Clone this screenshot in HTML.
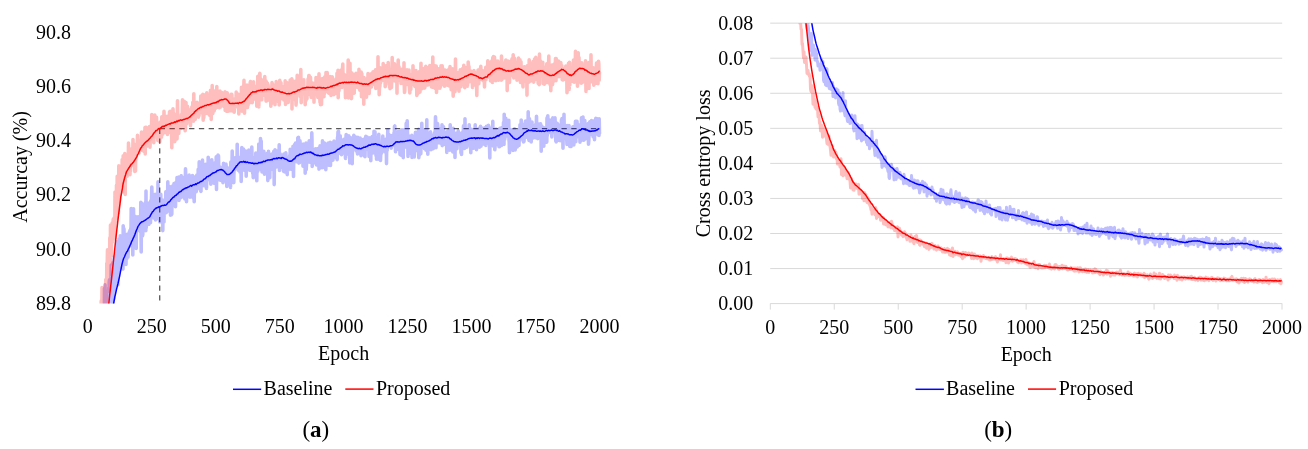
<!DOCTYPE html><html><head><meta charset="utf-8"><style>html,body{margin:0;padding:0;background:#fff;}svg{display:block;}</style></head><body>
<svg width="1308" height="449" viewBox="0 0 1308 449" font-family="&quot;Liberation Serif&quot;, serif" font-size="20" fill="#000">
<defs><clipPath id="cL"><rect x="80" y="15" width="530" height="288.6"/></clipPath><clipPath id="cR"><rect x="765" y="23.2" width="530" height="280.4"/></clipPath></defs>
<rect width="1308" height="449" fill="#fff"/><g opacity="0.999">
<text x="71" y="38.7" text-anchor="end">90.8</text>
<text x="71" y="92.9" text-anchor="end">90.6</text>
<text x="71" y="147.2" text-anchor="end">90.4</text>
<text x="71" y="201.4" text-anchor="end">90.2</text>
<text x="71" y="255.7" text-anchor="end">90.0</text>
<text x="71" y="309.9" text-anchor="end">89.8</text>
<text x="87.8" y="333.2" text-anchor="middle">0</text>
<text x="151.8" y="333.2" text-anchor="middle">250</text>
<text x="215.7" y="333.2" text-anchor="middle">500</text>
<text x="279.7" y="333.2" text-anchor="middle">750</text>
<text x="343.6" y="333.2" text-anchor="middle">1000</text>
<text x="407.6" y="333.2" text-anchor="middle">1250</text>
<text x="471.6" y="333.2" text-anchor="middle">1500</text>
<text x="535.5" y="333.2" text-anchor="middle">1750</text>
<text x="599.5" y="333.2" text-anchor="middle">2000</text>
<text x="343.6" y="360" text-anchor="middle">Epoch</text>
<text transform="translate(27.2,166.9) rotate(-90)" text-anchor="middle">Accurcay (%)</text>
<line x1="233" y1="389.3" x2="261.2" y2="389.3" stroke="#0000ff" stroke-width="1.5"/>
<text x="263.6" y="395">Baseline</text>
<line x1="345.3" y1="389.1" x2="373.5" y2="389.1" stroke="#ff0000" stroke-width="1.5"/>
<text x="375.9" y="394.8">Proposed</text>
<text x="315.8" y="436.9" text-anchor="middle" font-size="23">(<tspan font-weight="bold">a</tspan>)</text>
<g stroke="#595959" stroke-width="1.3" stroke-dasharray="5.3 4.5" fill="none"><path d="M159.7 128.7V301"/><path d="M159.7 128.7H597"/></g>
<g clip-path="url(#cL)" fill="none" stroke-linejoin="round" stroke-linecap="round">
<path d="M100.0 384.8L100.2 364.4L100.5 367.2L100.8 374.9L101.0 347.8L101.2 358.4L101.5 344.0L101.8 337.7L102.0 359.5L102.2 331.0L102.5 345.5L102.8 328.1L103.0 338.9L103.2 329.4L103.5 356.2L103.8 336.5L104.0 334.7L104.2 360.1L104.5 288.5L104.8 308.8L105.0 284.9L105.2 324.0L105.5 329.6L105.8 331.1L106.0 322.9L106.2 302.1L106.5 343.7L106.8 318.0L107.0 306.9L107.2 291.3L107.5 314.7L107.8 298.4L108.0 297.6L108.2 306.7L108.5 305.5L108.8 287.8L109.0 319.2L109.2 282.7L109.5 279.8L109.8 300.9L110.0 297.0L110.2 295.0L110.5 286.6L110.8 292.5L111.0 282.3L111.2 265.1L111.5 299.9L111.8 272.8L112.0 283.5L112.2 296.7L112.5 285.2L112.8 323.6L113.0 262.5L113.2 271.0L113.5 282.0L113.8 299.1L114.0 275.0L114.2 257.0L114.5 292.3L114.8 262.0L115.0 271.0L115.2 284.9L115.5 262.0L115.8 263.9L116.0 275.7L116.2 265.0L116.5 270.6L116.8 252.7L117.0 262.8L117.2 248.7L117.5 241.5L117.8 285.0L118.0 266.7L118.2 272.0L118.5 246.3L118.8 258.1L119.0 255.1L119.2 238.7L119.5 263.8L119.8 246.8L120.0 253.0L120.2 235.7L120.5 267.4L120.8 263.9L121.0 258.8L121.2 241.9L121.5 246.2L121.8 267.9L122.0 248.7L122.2 255.0L122.5 253.0L122.8 237.1L123.0 269.1L123.2 225.7L123.5 252.2L123.8 247.9L124.0 228.9L124.2 252.0L124.5 253.7L124.8 247.5L125.0 236.5L125.2 251.2L125.5 258.5L125.8 247.4L126.0 264.5L126.2 253.7L126.5 252.1L126.8 258.7L127.0 234.4L127.2 235.5L127.5 246.9L127.8 246.4L128.0 257.1L128.2 252.4L128.5 240.8L128.8 240.7L129.0 234.6L129.2 233.1L129.5 231.6L129.8 246.1L130.0 230.2L130.2 230.9L130.5 236.0L130.8 228.0L131.0 230.6L131.2 208.6L131.5 236.0L131.8 228.0L132.0 232.8L132.2 234.1L132.5 209.7L132.8 254.9L133.0 230.3L133.2 230.1L133.5 208.8L133.8 234.0L134.0 231.4L134.2 222.9L134.5 229.0L134.8 239.6L135.0 222.4L135.2 216.3L135.5 239.3L135.8 228.0L136.0 223.2L136.2 248.5L136.5 226.3L136.8 222.7L137.0 227.0L137.2 220.0L137.5 226.0L137.8 225.2L138.0 216.8L138.2 220.6L138.5 226.2L138.8 226.7L139.0 228.5L139.2 230.4L139.5 224.9L139.8 227.3L140.0 218.3L140.2 219.4L140.5 231.9L140.8 202.2L141.0 225.0L141.2 252.0L141.5 203.0L141.8 235.4L142.0 203.6L142.2 223.9L142.5 235.9L142.8 234.3L143.0 211.1L143.2 207.1L143.5 205.6L143.8 225.9L144.0 215.2L144.2 218.7L144.5 220.8L144.8 222.0L145.0 222.9L145.2 218.8L145.5 202.3L145.8 230.7L146.0 191.1L146.2 227.9L146.5 210.4L146.8 213.8L147.0 210.4L147.2 211.4L147.5 214.2L147.8 211.4L148.0 203.5L148.2 220.9L148.5 207.4L148.8 224.5L149.0 210.5L149.2 205.1L149.5 215.1L149.8 218.8L150.0 202.2L150.2 207.6L150.5 222.7L150.8 200.7L151.0 201.9L151.2 210.8L151.5 198.3L151.8 187.0L152.0 194.0L152.2 212.0L152.5 214.3L152.8 213.6L153.0 211.7L153.2 197.3L153.5 213.9L153.8 218.0L154.0 201.7L154.2 215.9L154.5 204.4L154.8 209.1L155.0 210.6L155.2 194.4L155.5 219.9L155.8 199.7L156.0 206.1L156.2 202.7L156.5 210.8L156.8 210.5L157.0 206.9L157.2 218.7L157.5 209.0L157.8 203.1L158.0 181.9L158.2 204.0L158.5 203.9L158.8 198.9L159.0 198.9L159.2 211.1L159.5 214.9L159.8 222.0L160.0 215.5L160.2 199.9L160.5 207.9L160.8 194.3L161.0 211.7L161.2 208.5L161.5 200.4L161.8 204.5L162.0 203.2L162.2 199.9L162.5 216.0L162.8 230.6L163.0 211.6L163.2 213.3L163.5 205.7L163.8 201.3L164.0 222.0L164.2 200.8L164.5 206.8L164.8 202.3L165.0 207.8L165.2 202.3L165.5 207.3L165.8 191.9L166.0 201.1L166.2 212.7L166.5 192.9L166.8 195.6L167.0 211.8L167.2 203.7L167.5 208.8L167.8 181.8L168.0 200.7L168.2 189.0L168.5 187.8L168.8 202.1L169.0 208.0L169.2 186.3L169.5 189.2L169.8 193.2L170.0 196.6L170.2 186.8L170.5 215.2L170.8 201.6L171.0 193.9L171.2 192.4L171.5 214.8L171.8 213.9L172.0 192.0L172.2 198.4L172.5 205.4L172.8 185.8L173.0 190.3L173.2 205.4L173.5 189.0L173.8 190.9L174.0 183.5L174.2 187.9L174.5 199.0L174.8 187.0L175.0 183.0L175.2 188.1L175.5 206.7L175.8 194.0L176.0 188.0L176.2 193.4L176.5 195.4L176.8 192.7L177.0 177.5L177.2 193.7L177.5 189.5L177.8 197.6L178.0 180.3L178.2 198.8L178.5 186.6L178.8 177.1L179.0 200.5L179.2 186.0L179.5 192.7L179.8 188.4L180.0 198.0L180.2 197.9L180.5 197.8L180.8 194.6L181.0 176.4L181.2 175.8L181.5 190.2L181.8 181.2L182.0 192.0L182.2 189.5L182.5 177.2L182.8 180.0L183.0 179.2L183.2 180.9L183.5 186.1L183.8 192.7L184.0 197.7L184.2 179.9L184.5 182.9L184.8 199.0L185.0 193.8L185.2 188.7L185.5 168.9L185.8 179.0L186.0 187.8L186.2 182.0L186.5 201.6L186.8 187.0L187.0 188.4L187.2 177.8L187.5 178.1L187.8 180.9L188.0 181.1L188.2 184.0L188.5 188.5L188.8 187.4L189.0 193.0L189.2 175.1L189.5 186.9L189.8 187.0L190.0 197.1L190.2 183.4L190.5 187.4L190.8 178.7L191.0 187.9L191.2 187.6L191.5 179.8L191.8 181.1L192.0 184.1L192.2 188.6L192.5 175.5L192.8 190.7L193.0 181.4L193.2 198.1L193.5 194.7L193.8 180.6L194.0 178.8L194.2 201.8L194.5 188.0L194.8 187.4L195.0 179.9L195.2 182.0L195.5 188.8L195.8 187.3L196.0 176.4L196.2 191.7L196.5 184.6L196.8 175.1L197.0 189.5L197.2 180.6L197.5 187.6L197.8 177.5L198.0 184.2L198.2 169.2L198.5 183.9L198.8 169.7L199.0 182.0L199.2 161.9L199.5 180.0L199.8 185.7L200.0 183.8L200.2 188.8L200.5 171.9L200.8 191.2L201.0 191.3L201.2 170.4L201.5 173.2L201.8 174.7L202.0 178.6L202.2 179.9L202.5 160.1L202.8 182.5L203.0 176.1L203.2 170.3L203.5 184.6L203.8 174.9L204.0 185.6L204.2 181.0L204.5 174.5L204.8 185.3L205.0 182.4L205.2 172.6L205.5 164.3L205.8 172.0L206.0 180.3L206.2 173.9L206.5 188.4L206.8 177.2L207.0 176.6L207.2 177.9L207.5 168.3L207.8 173.7L208.0 169.6L208.2 157.2L208.5 161.2L208.8 179.4L209.0 170.7L209.2 172.9L209.5 162.8L209.8 169.2L210.0 179.1L210.2 173.9L210.5 169.3L210.8 184.1L211.0 172.4L211.2 170.1L211.5 180.9L211.8 159.8L212.0 176.3L212.2 164.0L212.5 166.2L212.8 166.9L213.0 172.6L213.2 172.3L213.5 173.6L213.8 172.8L214.0 181.3L214.2 183.3L214.5 176.0L214.8 176.3L215.0 167.9L215.2 162.6L215.5 174.7L215.8 170.6L216.0 176.4L216.2 156.9L216.5 189.5L216.8 160.8L217.0 170.2L217.2 177.0L217.5 159.8L217.8 165.8L218.0 155.1L218.2 159.4L218.5 155.7L218.8 170.4L219.0 171.8L219.2 167.5L219.5 179.0L219.8 180.0L220.0 170.1L220.2 168.7L220.5 168.5L220.8 167.4L221.0 180.4L221.2 172.9L221.5 169.1L221.8 170.1L222.0 175.9L222.2 169.4L222.5 174.8L222.8 172.5L223.0 182.8L223.2 181.7L223.5 163.4L223.8 172.6L224.0 179.1L224.2 170.9L224.5 180.1L224.8 176.8L225.0 178.8L225.2 174.1L225.5 176.8L225.8 178.4L226.0 164.0L226.2 167.9L226.5 167.1L226.8 186.4L227.0 176.4L227.2 176.7L227.5 175.1L227.8 170.0L228.0 168.1L228.2 179.3L228.5 170.3L228.8 184.1L229.0 173.9L229.2 172.9L229.5 170.3L229.8 171.1L230.0 171.5L230.2 181.9L230.5 187.4L230.8 162.1L231.0 171.8L231.2 174.7L231.5 162.8L231.8 164.4L232.0 165.3L232.2 151.0L232.5 172.5L232.8 167.2L233.0 166.5L233.2 167.4L233.5 168.2L233.8 182.6L234.0 167.0L234.2 171.4L234.5 161.4L234.8 167.3L235.0 162.2L235.2 163.1L235.5 157.5L235.8 157.8L236.0 166.6L236.2 168.5L236.5 166.2L236.8 157.9L237.0 164.8L237.2 144.3L237.5 168.9L237.8 161.8L238.0 163.9L238.2 170.2L238.5 158.9L238.8 168.6L239.0 158.7L239.2 165.7L239.5 158.9L239.8 164.0L240.0 172.2L240.2 157.3L240.5 157.6L240.8 159.6L241.0 164.1L241.2 181.5L241.5 157.9L241.8 147.6L242.0 157.5L242.2 150.9L242.5 158.2L242.8 162.4L243.0 155.5L243.2 157.5L243.5 149.1L243.8 163.7L244.0 157.2L244.2 170.2L244.5 170.0L244.8 156.5L245.0 160.1L245.2 163.1L245.5 168.2L245.8 151.0L246.0 162.4L246.2 176.2L246.5 162.4L246.8 164.6L247.0 163.1L247.2 154.7L247.5 170.0L247.8 165.2L248.0 164.5L248.2 168.5L248.5 169.0L248.8 150.1L249.0 166.9L249.2 159.4L249.5 164.7L249.8 158.6L250.0 157.5L250.2 170.4L250.5 163.7L250.8 161.8L251.0 161.7L251.2 164.4L251.5 163.7L251.8 147.1L252.0 157.7L252.2 162.2L252.5 169.2L252.8 173.5L253.0 157.3L253.2 177.6L253.5 164.5L253.8 167.3L254.0 160.1L254.2 159.6L254.5 173.9L254.8 162.2L255.0 163.0L255.2 171.9L255.5 175.8L255.8 153.0L256.0 162.2L256.2 163.4L256.5 176.3L256.8 180.8L257.0 163.0L257.2 165.9L257.5 169.3L257.8 171.3L258.0 160.8L258.2 169.1L258.5 158.0L258.8 144.0L259.0 153.1L259.2 164.3L259.5 168.2L259.8 146.7L260.0 149.8L260.2 162.2L260.5 138.5L260.8 166.3L261.0 169.5L261.2 141.1L261.5 167.5L261.8 160.7L262.0 172.0L262.2 163.9L262.5 160.1L262.8 162.6L263.0 168.3L263.2 163.0L263.5 161.9L263.8 151.3L264.0 164.9L264.2 161.6L264.5 174.3L264.8 161.2L265.0 160.6L265.2 156.8L265.5 166.2L265.8 159.7L266.0 156.1L266.2 172.3L266.5 173.5L266.8 157.7L267.0 153.6L267.2 168.8L267.5 154.9L267.8 180.6L268.0 159.7L268.2 167.4L268.5 151.4L268.8 160.3L269.0 168.2L269.2 163.5L269.5 156.6L269.8 177.6L270.0 165.5L270.2 158.6L270.5 155.9L270.8 158.2L271.0 169.6L271.2 154.5L271.5 160.2L271.8 154.1L272.0 168.7L272.2 158.6L272.5 165.8L272.8 163.7L273.0 155.6L273.2 164.5L273.5 166.2L273.8 151.4L274.0 164.4L274.2 184.6L274.5 157.3L274.8 163.9L275.0 149.9L275.2 162.5L275.5 155.1L275.8 164.6L276.0 158.8L276.2 150.8L276.5 166.9L276.8 157.6L277.0 151.9L277.2 159.5L277.5 152.2L277.8 161.8L278.0 158.6L278.2 156.4L278.5 163.7L278.8 150.0L279.0 165.9L279.2 144.8L279.5 170.4L279.8 160.3L280.0 157.2L280.2 153.9L280.5 163.1L280.8 158.1L281.0 158.1L281.2 166.7L281.5 156.5L281.8 158.0L282.0 162.8L282.2 167.5L282.5 159.0L282.8 161.3L283.0 160.6L283.2 165.7L283.5 171.1L283.8 154.1L284.0 159.9L284.2 160.6L284.5 165.3L284.8 171.9L285.0 161.2L285.2 163.0L285.5 169.6L285.8 152.9L286.0 156.4L286.2 158.7L286.5 162.0L286.8 163.7L287.0 158.5L287.2 174.6L287.5 157.2L287.8 160.8L288.0 170.0L288.2 167.8L288.5 162.1L288.8 164.8L289.0 167.9L289.2 161.8L289.5 166.4L289.8 155.0L290.0 161.8L290.2 149.4L290.5 154.5L290.8 152.5L291.0 169.2L291.2 156.8L291.5 161.9L291.8 152.9L292.0 157.7L292.2 156.9L292.5 152.5L292.8 164.4L293.0 146.2L293.2 162.2L293.5 176.5L293.8 151.5L294.0 157.3L294.2 145.8L294.5 156.5L294.8 144.2L295.0 160.9L295.2 152.8L295.5 143.1L295.8 146.9L296.0 144.7L296.2 153.8L296.5 161.8L296.8 152.8L297.0 147.1L297.2 149.4L297.5 156.1L297.8 137.8L298.0 159.2L298.2 157.8L298.5 137.2L298.8 163.1L299.0 142.9L299.2 152.9L299.5 162.8L299.8 142.5L300.0 140.9L300.2 146.0L300.5 146.2L300.8 152.9L301.0 150.0L301.2 150.1L301.5 150.2L301.8 152.2L302.0 147.3L302.2 155.7L302.5 153.3L302.8 146.0L303.0 166.3L303.2 144.1L303.5 158.4L303.8 147.7L304.0 155.6L304.2 156.7L304.5 159.1L304.8 163.1L305.0 146.9L305.2 173.3L305.5 155.7L305.8 147.0L306.0 143.1L306.2 169.6L306.5 164.6L306.8 152.7L307.0 158.3L307.2 162.2L307.5 153.5L307.8 149.8L308.0 152.6L308.2 158.8L308.5 153.0L308.8 144.1L309.0 158.4L309.2 140.7L309.5 147.8L309.8 162.2L310.0 155.2L310.2 155.3L310.5 154.6L310.8 161.4L311.0 153.8L311.2 140.4L311.5 156.3L311.8 132.8L312.0 140.2L312.2 166.4L312.5 162.7L312.8 152.1L313.0 155.0L313.2 156.3L313.5 163.0L313.8 150.4L314.0 149.7L314.2 151.6L314.5 157.2L314.8 158.1L315.0 153.4L315.2 161.6L315.5 148.9L315.8 155.6L316.0 151.2L316.2 149.0L316.5 164.9L316.8 153.8L317.0 148.9L317.2 156.4L317.5 148.9L317.8 160.3L318.0 162.1L318.2 163.3L318.5 148.4L318.8 154.9L319.0 169.1L319.2 154.3L319.5 164.9L319.8 166.7L320.0 145.9L320.2 164.4L320.5 161.1L320.8 161.9L321.0 167.7L321.2 158.9L321.5 156.1L321.8 159.8L322.0 152.9L322.2 158.9L322.5 140.9L322.8 167.6L323.0 151.4L323.2 159.0L323.5 157.3L323.8 155.8L324.0 155.8L324.2 155.4L324.5 143.1L324.8 150.9L325.0 163.3L325.2 147.3L325.5 147.0L325.8 169.7L326.0 163.1L326.2 165.6L326.5 154.3L326.8 156.2L327.0 159.7L327.2 158.2L327.5 153.5L327.8 143.6L328.0 148.7L328.2 143.1L328.5 165.1L328.8 150.8L329.0 152.3L329.2 155.6L329.5 153.5L329.8 157.1L330.0 148.7L330.2 142.2L330.5 165.5L330.8 147.7L331.0 149.3L331.2 146.9L331.5 148.5L331.8 152.4L332.0 157.5L332.2 144.5L332.5 153.9L332.8 146.9L333.0 160.1L333.2 142.6L333.5 151.9L333.8 156.1L334.0 141.1L334.2 151.4L334.5 151.5L334.8 144.6L335.0 148.6L335.2 157.0L335.5 151.5L335.8 146.6L336.0 147.9L336.2 152.4L336.5 158.1L336.8 154.5L337.0 153.9L337.2 159.6L337.5 137.4L337.8 138.0L338.0 131.9L338.2 153.7L338.5 131.4L338.8 147.2L339.0 152.6L339.2 137.3L339.5 142.3L339.8 145.0L340.0 151.8L340.2 135.8L340.5 148.6L340.8 151.1L341.0 147.1L341.2 147.1L341.5 154.6L341.8 147.2L342.0 145.4L342.2 143.1L342.5 149.9L342.8 143.2L343.0 149.8L343.2 145.8L343.5 152.9L343.8 139.3L344.0 145.3L344.2 147.2L344.5 147.6L344.8 152.6L345.0 147.4L345.2 150.9L345.5 158.4L345.8 150.5L346.0 137.1L346.2 134.5L346.5 149.3L346.8 141.9L347.0 146.7L347.2 143.4L347.5 153.9L347.8 153.2L348.0 136.9L348.2 146.9L348.5 142.9L348.8 135.9L349.0 149.8L349.2 144.3L349.5 148.6L349.8 163.0L350.0 155.0L350.2 153.6L350.5 143.1L350.8 137.8L351.0 155.0L351.2 144.2L351.5 146.8L351.8 144.0L352.0 147.5L352.2 163.8L352.5 144.9L352.8 145.2L353.0 148.8L353.2 149.5L353.5 139.2L353.8 135.3L354.0 143.7L354.2 146.4L354.5 142.5L354.8 141.1L355.0 141.6L355.2 145.5L355.5 147.5L355.8 137.0L356.0 144.6L356.2 151.0L356.5 147.7L356.8 139.1L357.0 146.1L357.2 148.5L357.5 154.0L357.8 137.2L358.0 153.4L358.2 145.3L358.5 149.9L358.8 153.2L359.0 142.3L359.2 142.7L359.5 147.4L359.8 153.2L360.0 144.2L360.2 138.0L360.5 143.0L360.8 150.4L361.0 155.7L361.2 143.9L361.5 145.1L361.8 145.9L362.0 146.1L362.2 140.3L362.5 143.7L362.8 148.2L363.0 147.3L363.2 146.6L363.5 139.3L363.8 142.3L364.0 141.1L364.2 153.3L364.5 156.0L364.8 148.1L365.0 156.8L365.2 143.5L365.5 143.5L365.8 136.4L366.0 147.0L366.2 142.1L366.5 145.8L366.8 148.5L367.0 143.3L367.2 137.1L367.5 144.6L367.8 144.3L368.0 144.9L368.2 149.3L368.5 143.1L368.8 142.6L369.0 156.4L369.2 151.8L369.5 143.6L369.8 137.7L370.0 141.1L370.2 146.8L370.5 149.9L370.8 160.7L371.0 142.3L371.2 145.1L371.5 141.5L371.8 144.5L372.0 141.3L372.2 136.6L372.5 151.1L372.8 144.9L373.0 153.0L373.2 140.6L373.5 146.0L373.8 148.8L374.0 131.3L374.2 135.2L374.5 149.6L374.8 145.2L375.0 131.9L375.2 139.6L375.5 137.5L375.8 141.5L376.0 155.6L376.2 141.1L376.5 159.2L376.8 143.5L377.0 140.3L377.2 156.3L377.5 152.1L377.8 155.2L378.0 159.2L378.2 153.2L378.5 154.4L378.8 134.2L379.0 140.4L379.2 149.3L379.5 147.7L379.8 151.4L380.0 143.1L380.2 154.2L380.5 160.5L380.8 150.6L381.0 152.4L381.2 150.2L381.5 153.1L381.8 148.2L382.0 143.2L382.2 148.1L382.5 147.5L382.8 136.1L383.0 148.3L383.2 146.9L383.5 148.1L383.8 142.9L384.0 150.0L384.2 150.9L384.5 141.7L384.8 148.8L385.0 151.9L385.2 151.6L385.5 140.1L385.8 139.3L386.0 146.5L386.2 139.1L386.5 163.6L386.8 140.6L387.0 140.6L387.2 150.5L387.5 142.7L387.8 129.7L388.0 144.8L388.2 138.9L388.5 142.0L388.8 134.4L389.0 139.2L389.2 144.3L389.5 144.8L389.8 137.5L390.0 140.1L390.2 139.0L390.5 145.6L390.8 143.3L391.0 135.5L391.2 148.2L391.5 138.7L391.8 145.9L392.0 136.6L392.2 144.7L392.5 141.6L392.8 142.5L393.0 145.4L393.2 144.8L393.5 142.9L393.8 142.8L394.0 132.8L394.2 141.1L394.5 126.4L394.8 126.0L395.0 139.3L395.2 139.9L395.5 151.8L395.8 146.0L396.0 149.1L396.2 139.2L396.5 144.4L396.8 149.4L397.0 145.0L397.2 143.8L397.5 142.1L397.8 135.0L398.0 135.2L398.2 131.5L398.5 144.2L398.8 139.5L399.0 136.7L399.2 143.8L399.5 137.4L399.8 148.5L400.0 154.5L400.2 144.4L400.5 136.5L400.8 131.0L401.0 155.2L401.2 144.4L401.5 133.1L401.8 148.6L402.0 129.7L402.2 138.1L402.5 139.5L402.8 138.6L403.0 133.2L403.2 157.6L403.5 138.2L403.8 143.6L404.0 141.2L404.2 129.8L404.5 137.0L404.8 142.3L405.0 147.2L405.2 138.3L405.5 143.2L405.8 138.3L406.0 144.7L406.2 123.4L406.5 144.7L406.8 136.2L407.0 136.5L407.2 120.8L407.5 133.1L407.8 144.7L408.0 156.5L408.2 135.5L408.5 135.8L408.8 143.8L409.0 142.4L409.2 136.4L409.5 139.3L409.8 137.9L410.0 145.0L410.2 146.4L410.5 153.2L410.8 147.6L411.0 146.1L411.2 142.7L411.5 148.4L411.8 135.3L412.0 157.4L412.2 144.6L412.5 152.7L412.8 137.6L413.0 150.6L413.2 146.4L413.5 142.6L413.8 139.4L414.0 138.1L414.2 157.0L414.5 153.1L414.8 145.6L415.0 146.2L415.2 139.9L415.5 132.2L415.8 132.5L416.0 140.8L416.2 143.9L416.5 136.8L416.8 150.5L417.0 148.5L417.2 145.9L417.5 132.5L417.8 143.2L418.0 144.4L418.2 135.7L418.5 129.2L418.8 157.7L419.0 148.6L419.2 141.5L419.5 155.2L419.8 151.7L420.0 147.0L420.2 145.3L420.5 149.0L420.8 153.7L421.0 143.8L421.2 141.6L421.5 147.2L421.8 123.3L422.0 143.5L422.2 139.9L422.5 142.5L422.8 141.2L423.0 144.7L423.2 143.0L423.5 142.6L423.8 141.1L424.0 145.1L424.2 138.3L424.5 148.6L424.8 129.8L425.0 142.9L425.2 144.5L425.5 132.3L425.8 138.1L426.0 150.2L426.2 139.9L426.5 134.5L426.8 119.7L427.0 142.8L427.2 141.0L427.5 144.4L427.8 154.3L428.0 139.8L428.2 140.6L428.5 134.7L428.8 138.9L429.0 139.0L429.2 144.4L429.5 142.8L429.8 133.5L430.0 135.4L430.2 148.2L430.5 131.8L430.8 143.6L431.0 149.6L431.2 142.8L431.5 139.9L431.8 147.6L432.0 140.4L432.2 137.8L432.5 136.4L432.8 145.9L433.0 142.7L433.2 148.6L433.5 135.4L433.8 135.6L434.0 134.7L434.2 139.7L434.5 132.9L434.8 144.2L435.0 140.0L435.2 130.8L435.5 116.9L435.8 124.8L436.0 147.7L436.2 137.2L436.5 138.6L436.8 134.6L437.0 140.3L437.2 124.1L437.5 123.5L437.8 126.1L438.0 138.0L438.2 142.4L438.5 140.8L438.8 136.6L439.0 128.5L439.2 143.0L439.5 135.5L439.8 137.3L440.0 136.9L440.2 134.1L440.5 132.4L440.8 133.3L441.0 128.4L441.2 139.1L441.5 136.2L441.8 144.5L442.0 124.7L442.2 145.6L442.5 136.9L442.8 136.2L443.0 131.7L443.2 131.7L443.5 126.9L443.8 143.7L444.0 135.9L444.2 142.4L444.5 143.2L444.8 133.9L445.0 135.8L445.2 135.1L445.5 144.7L445.8 138.6L446.0 138.9L446.2 142.9L446.5 137.4L446.8 152.4L447.0 131.8L447.2 147.2L447.5 148.4L447.8 130.8L448.0 145.0L448.2 141.1L448.5 145.4L448.8 131.1L449.0 141.4L449.2 133.0L449.5 137.7L449.8 150.2L450.0 139.5L450.2 124.8L450.5 131.0L450.8 133.0L451.0 148.2L451.2 136.4L451.5 130.5L451.8 149.3L452.0 143.4L452.2 144.2L452.5 136.3L452.8 151.9L453.0 141.1L453.2 128.2L453.5 134.1L453.8 136.2L454.0 141.0L454.2 147.4L454.5 137.0L454.8 137.9L455.0 157.5L455.2 142.6L455.5 138.3L455.8 142.2L456.0 133.2L456.2 145.6L456.5 148.6L456.8 137.7L457.0 148.7L457.2 139.6L457.5 143.6L457.8 136.4L458.0 135.9L458.2 130.9L458.5 142.9L458.8 139.3L459.0 139.4L459.2 133.2L459.5 132.9L459.8 136.6L460.0 144.2L460.2 142.9L460.5 136.0L460.8 142.7L461.0 152.9L461.2 141.2L461.5 154.5L461.8 143.3L462.0 149.5L462.2 136.4L462.5 148.2L462.8 131.7L463.0 141.6L463.2 137.4L463.5 125.7L463.8 130.0L464.0 147.4L464.2 142.8L464.5 148.4L464.8 140.6L465.0 118.8L465.2 140.8L465.5 135.0L465.8 135.4L466.0 135.7L466.2 133.4L466.5 132.0L466.8 147.3L467.0 141.7L467.2 133.9L467.5 135.5L467.8 145.2L468.0 141.0L468.2 139.6L468.5 129.6L468.8 135.1L469.0 130.2L469.2 124.7L469.5 144.3L469.8 135.7L470.0 135.1L470.2 131.3L470.5 143.3L470.8 152.6L471.0 142.0L471.2 144.5L471.5 129.2L471.8 139.2L472.0 139.5L472.2 148.4L472.5 138.0L472.8 131.3L473.0 137.5L473.2 134.9L473.5 148.1L473.8 142.6L474.0 140.4L474.2 139.2L474.5 143.9L474.8 134.6L475.0 131.6L475.2 124.8L475.5 146.3L475.8 141.6L476.0 142.5L476.2 138.3L476.5 149.7L476.8 131.2L477.0 146.5L477.2 132.2L477.5 134.9L477.8 129.6L478.0 138.7L478.2 136.1L478.5 141.1L478.8 134.0L479.0 128.4L479.2 142.1L479.5 147.1L479.8 143.3L480.0 137.8L480.2 141.0L480.5 126.3L480.8 135.8L481.0 146.3L481.2 141.4L481.5 132.2L481.8 144.2L482.0 137.3L482.2 143.3L482.5 128.4L482.8 134.5L483.0 140.5L483.2 140.4L483.5 142.1L483.8 138.2L484.0 136.9L484.2 141.6L484.5 144.3L484.8 127.7L485.0 136.1L485.2 136.9L485.5 139.4L485.8 145.4L486.0 129.0L486.2 142.1L486.5 126.2L486.8 133.1L487.0 134.7L487.2 136.5L487.5 134.1L487.8 134.8L488.0 135.9L488.2 136.4L488.5 125.4L488.8 128.5L489.0 135.2L489.2 141.9L489.5 145.1L489.8 158.0L490.0 138.7L490.2 132.4L490.5 139.1L490.8 142.5L491.0 138.6L491.2 130.2L491.5 136.8L491.8 137.1L492.0 127.5L492.2 128.8L492.5 145.4L492.8 121.4L493.0 138.0L493.2 134.9L493.5 146.3L493.8 140.7L494.0 130.3L494.2 145.0L494.5 132.2L494.8 149.8L495.0 147.4L495.2 135.2L495.5 141.0L495.8 136.7L496.0 129.0L496.2 142.6L496.5 138.0L496.8 140.8L497.0 142.2L497.2 144.5L497.5 141.8L497.8 133.8L498.0 134.9L498.2 137.1L498.5 133.2L498.8 132.3L499.0 146.8L499.2 137.1L499.5 146.8L499.8 128.2L500.0 133.1L500.2 130.3L500.5 130.5L500.8 131.1L501.0 132.2L501.2 129.9L501.5 145.4L501.8 137.5L502.0 127.6L502.2 128.9L502.5 137.8L502.8 136.3L503.0 128.3L503.2 138.9L503.5 122.5L503.8 129.1L504.0 144.4L504.2 114.3L504.5 131.0L504.8 139.3L505.0 131.4L505.2 127.1L505.5 126.5L505.8 118.3L506.0 123.7L506.2 133.5L506.5 129.3L506.8 133.3L507.0 132.6L507.2 135.9L507.5 122.6L507.8 132.2L508.0 132.3L508.2 132.8L508.5 129.0L508.8 120.3L509.0 140.1L509.2 141.7L509.5 152.7L509.8 141.6L510.0 148.2L510.2 141.2L510.5 134.7L510.8 141.0L511.0 129.7L511.2 139.7L511.5 137.5L511.8 131.1L512.0 147.1L512.2 146.5L512.5 142.1L512.8 144.6L513.0 150.5L513.2 138.2L513.5 129.7L513.8 132.5L514.0 143.9L514.2 140.6L514.5 128.7L514.8 148.1L515.0 140.3L515.2 149.9L515.5 146.4L515.8 135.4L516.0 139.0L516.2 133.1L516.5 132.2L516.8 135.7L517.0 141.1L517.2 146.9L517.5 131.1L517.8 141.9L518.0 137.1L518.2 135.1L518.5 144.2L518.8 133.7L519.0 145.5L519.2 133.4L519.5 129.0L519.8 140.5L520.0 124.8L520.2 126.5L520.5 133.2L520.8 134.2L521.0 132.1L521.2 120.0L521.5 124.2L521.8 136.8L522.0 136.8L522.2 125.8L522.5 134.4L522.8 133.8L523.0 139.2L523.2 126.9L523.5 141.9L523.8 129.5L524.0 141.5L524.2 137.7L524.5 124.1L524.8 128.8L525.0 132.9L525.2 137.8L525.5 121.0L525.8 127.1L526.0 134.9L526.2 133.8L526.5 123.1L526.8 124.2L527.0 133.4L527.2 123.3L527.5 132.1L527.8 136.8L528.0 130.6L528.2 111.8L528.5 138.7L528.8 138.5L529.0 140.4L529.2 136.6L529.5 118.9L529.8 140.5L530.0 133.1L530.2 137.2L530.5 129.6L530.8 129.1L531.0 129.1L531.2 142.0L531.5 132.8L531.8 129.5L532.0 122.0L532.2 134.3L532.5 131.1L532.8 132.1L533.0 138.0L533.2 136.2L533.5 131.2L533.8 132.7L534.0 131.9L534.2 136.3L534.5 136.1L534.8 132.3L535.0 125.4L535.2 137.3L535.5 137.7L535.8 124.0L536.0 134.2L536.2 128.8L536.5 116.2L536.8 131.2L537.0 138.1L537.2 126.4L537.5 126.6L537.8 138.6L538.0 123.8L538.2 124.9L538.5 129.3L538.8 135.8L539.0 135.8L539.2 127.8L539.5 129.3L539.8 132.0L540.0 128.7L540.2 125.3L540.5 123.7L540.8 136.3L541.0 129.8L541.2 151.3L541.5 135.6L541.8 126.0L542.0 131.2L542.2 133.6L542.5 133.9L542.8 134.2L543.0 134.3L543.2 130.1L543.5 135.6L543.8 146.3L544.0 127.9L544.2 128.3L544.5 135.9L544.8 139.6L545.0 136.6L545.2 139.3L545.5 130.4L545.8 129.2L546.0 135.3L546.2 135.4L546.5 142.3L546.8 141.5L547.0 117.9L547.2 136.0L547.5 125.9L547.8 115.8L548.0 133.2L548.2 129.3L548.5 128.0L548.8 121.5L549.0 123.3L549.2 128.9L549.5 119.9L549.8 129.6L550.0 131.1L550.2 129.2L550.5 132.4L550.8 129.8L551.0 122.2L551.2 123.1L551.5 131.2L551.8 137.0L552.0 131.3L552.2 126.8L552.5 131.5L552.8 117.7L553.0 123.4L553.2 127.8L553.5 130.0L553.8 128.2L554.0 128.6L554.2 122.3L554.5 126.6L554.8 132.4L555.0 117.9L555.2 122.4L555.5 128.4L555.8 141.2L556.0 135.7L556.2 142.0L556.5 140.5L556.8 128.1L557.0 130.8L557.2 123.2L557.5 139.7L557.8 136.6L558.0 135.8L558.2 136.3L558.5 135.0L558.8 133.4L559.0 133.9L559.2 140.5L559.5 126.7L559.8 125.0L560.0 132.4L560.2 140.6L560.5 134.2L560.8 131.2L561.0 138.6L561.2 133.6L561.5 119.7L561.8 126.0L562.0 118.6L562.2 131.7L562.5 130.2L562.8 136.5L563.0 148.2L563.2 129.4L563.5 133.7L563.8 131.1L564.0 114.2L564.2 128.6L564.5 129.0L564.8 136.0L565.0 128.3L565.2 125.2L565.5 138.4L565.8 133.9L566.0 128.1L566.2 129.1L566.5 132.4L566.8 140.2L567.0 144.5L567.2 125.5L567.5 142.8L567.8 135.1L568.0 137.2L568.2 141.5L568.5 128.0L568.8 140.7L569.0 125.6L569.2 131.5L569.5 128.8L569.8 146.5L570.0 146.1L570.2 139.9L570.5 138.1L570.8 130.7L571.0 146.5L571.2 144.0L571.5 140.4L571.8 133.2L572.0 131.4L572.2 133.1L572.5 142.8L572.8 126.8L573.0 134.1L573.2 144.5L573.5 139.1L573.8 144.9L574.0 135.5L574.2 135.4L574.5 141.8L574.8 136.6L575.0 134.3L575.2 128.1L575.5 121.2L575.8 141.7L576.0 128.3L576.2 125.8L576.5 136.9L576.8 124.5L577.0 121.2L577.2 126.4L577.5 129.8L577.8 132.0L578.0 133.6L578.2 136.6L578.5 129.0L578.8 132.2L579.0 128.9L579.2 125.1L579.5 132.3L579.8 131.9L580.0 142.3L580.2 133.6L580.5 124.6L580.8 133.6L581.0 127.7L581.2 140.4L581.5 117.7L581.8 125.0L582.0 125.1L582.2 130.6L582.5 128.9L582.8 118.9L583.0 117.0L583.2 131.3L583.5 140.2L583.8 140.2L584.0 127.5L584.2 133.6L584.5 124.5L584.8 120.6L585.0 139.1L585.2 135.4L585.5 128.5L585.8 128.4L586.0 137.4L586.2 133.3L586.5 128.9L586.8 133.2L587.0 131.3L587.2 128.6L587.5 126.5L587.8 137.9L588.0 128.3L588.2 123.5L588.5 144.1L588.8 140.3L589.0 135.3L589.2 131.2L589.5 133.0L589.8 121.7L590.0 131.5L590.2 133.5L590.5 130.2L590.8 134.5L591.0 126.2L591.2 132.6L591.5 120.5L591.8 131.1L592.0 126.9L592.2 121.9L592.5 128.2L592.8 131.0L593.0 126.6L593.2 137.0L593.5 125.7L593.8 136.8L594.0 135.2L594.2 125.9L594.5 139.8L594.8 120.4L595.0 133.3L595.2 129.9L595.5 134.5L595.8 118.4L596.0 120.8L596.2 123.0L596.5 128.7L596.8 129.0L597.0 128.3L597.2 126.4L597.5 123.3L597.8 118.7L598.0 125.2L598.2 131.8L598.5 135.1L598.8 124.6L599.0 135.5L599.2 118.8L599.5 133.4" stroke="#0000ff" stroke-opacity="0.26" stroke-width="3.6"/>
<path d="M96.0 376.5L96.2 406.9L96.5 401.2L96.8 357.0L97.0 360.1L97.2 352.6L97.5 376.3L97.8 359.6L98.0 375.9L98.2 316.7L98.5 389.8L98.8 350.3L99.0 365.4L99.2 345.3L99.5 338.0L99.8 354.0L100.0 359.5L100.2 335.7L100.5 334.6L100.8 349.9L101.0 315.9L101.2 300.9L101.5 337.5L101.8 314.1L102.0 287.6L102.2 307.4L102.5 312.2L102.8 296.3L103.0 288.7L103.2 315.7L103.5 329.6L103.8 306.5L104.0 295.0L104.2 313.5L104.5 317.3L104.8 296.9L105.0 309.8L105.2 316.3L105.5 292.2L105.8 279.5L106.0 297.4L106.2 293.4L106.5 305.5L106.8 263.4L107.0 271.7L107.2 266.6L107.5 249.9L107.8 278.0L108.0 282.2L108.2 259.8L108.5 291.2L108.8 280.0L109.0 274.6L109.2 268.8L109.5 275.0L109.8 237.9L110.0 265.2L110.2 262.7L110.5 225.1L110.8 254.2L111.0 243.1L111.2 255.8L111.5 235.8L111.8 239.6L112.0 242.4L112.2 222.9L112.5 241.4L112.8 229.4L113.0 235.5L113.2 219.4L113.5 239.2L113.8 230.5L114.0 218.0L114.2 226.8L114.5 233.1L114.8 238.1L115.0 192.0L115.2 222.2L115.5 214.8L115.8 205.7L116.0 192.1L116.2 218.9L116.5 185.3L116.8 206.4L117.0 213.7L117.2 176.2L117.5 190.7L117.8 176.9L118.0 194.3L118.2 208.1L118.5 212.7L118.8 165.9L119.0 178.9L119.2 192.7L119.5 201.7L119.8 187.0L120.0 172.4L120.2 183.5L120.5 179.0L120.8 176.0L121.0 169.1L121.2 181.0L121.5 179.3L121.8 174.1L122.0 171.9L122.2 159.6L122.5 167.8L122.8 185.6L123.0 169.9L123.2 155.9L123.5 185.2L123.8 176.1L124.0 192.3L124.2 170.2L124.5 164.3L124.8 153.6L125.0 182.1L125.2 194.5L125.5 159.2L125.8 160.6L126.0 173.0L126.2 158.2L126.5 163.5L126.8 162.4L127.0 167.6L127.2 176.3L127.5 165.3L127.8 173.8L128.0 160.3L128.2 167.4L128.5 143.0L128.8 149.5L129.0 171.0L129.2 157.3L129.5 168.2L129.8 167.5L130.0 174.6L130.2 169.4L130.5 170.9L130.8 159.9L131.0 154.0L131.2 153.4L131.5 155.3L131.8 148.9L132.0 153.9L132.2 157.7L132.5 160.4L132.8 154.5L133.0 139.6L133.2 156.0L133.5 158.2L133.8 165.4L134.0 160.3L134.2 148.9L134.5 147.7L134.8 171.5L135.0 159.8L135.2 168.8L135.5 170.9L135.8 144.4L136.0 154.5L136.2 154.6L136.5 155.0L136.8 154.4L137.0 150.9L137.2 150.2L137.5 135.4L137.8 146.5L138.0 141.1L138.2 148.1L138.5 142.7L138.8 151.5L139.0 152.9L139.2 148.2L139.5 148.0L139.8 145.8L140.0 141.0L140.2 143.0L140.5 140.0L140.8 147.1L141.0 143.7L141.2 148.1L141.5 132.1L141.8 150.1L142.0 136.4L142.2 136.4L142.5 140.5L142.8 137.3L143.0 144.1L143.2 136.8L143.5 132.6L143.8 134.2L144.0 151.4L144.2 140.9L144.5 131.0L144.8 140.2L145.0 127.5L145.2 153.9L145.5 127.3L145.8 143.0L146.0 143.3L146.2 127.3L146.5 140.9L146.8 146.1L147.0 141.7L147.2 139.8L147.5 144.9L147.8 138.4L148.0 139.5L148.2 135.6L148.5 141.2L148.8 128.6L149.0 141.8L149.2 131.4L149.5 126.6L149.8 137.5L150.0 147.3L150.2 141.4L150.5 129.7L150.8 138.7L151.0 129.6L151.2 131.8L151.5 133.1L151.8 114.5L152.0 133.3L152.2 123.7L152.5 126.0L152.8 119.8L153.0 119.3L153.2 123.4L153.5 136.5L153.8 142.6L154.0 129.7L154.2 137.9L154.5 127.6L154.8 115.1L155.0 130.3L155.2 132.4L155.5 125.7L155.8 131.0L156.0 132.9L156.2 122.1L156.5 117.4L156.8 126.6L157.0 126.5L157.2 125.4L157.5 135.1L157.8 140.5L158.0 124.5L158.2 132.6L158.5 134.3L158.8 132.5L159.0 134.8L159.2 124.2L159.5 132.3L159.8 141.6L160.0 132.5L160.2 122.0L160.5 130.9L160.8 135.5L161.0 128.9L161.2 122.0L161.5 137.2L161.8 116.8L162.0 129.4L162.2 125.6L162.5 116.9L162.8 134.3L163.0 127.9L163.2 116.8L163.5 129.5L163.8 121.9L164.0 111.2L164.2 119.9L164.5 126.6L164.8 129.2L165.0 125.7L165.2 124.8L165.5 127.7L165.8 122.7L166.0 132.6L166.2 125.1L166.5 126.1L166.8 127.7L167.0 116.2L167.2 118.6L167.5 134.5L167.8 125.9L168.0 121.4L168.2 125.7L168.5 119.8L168.8 125.1L169.0 118.3L169.2 124.9L169.5 111.7L169.8 132.2L170.0 119.1L170.2 111.4L170.5 120.9L170.8 119.8L171.0 123.4L171.2 114.2L171.5 125.0L171.8 147.7L172.0 113.0L172.2 124.3L172.5 119.6L172.8 123.1L173.0 108.9L173.2 113.5L173.5 124.7L173.8 121.1L174.0 132.8L174.2 116.3L174.5 122.4L174.8 141.6L175.0 115.6L175.2 114.6L175.5 120.6L175.8 120.5L176.0 126.6L176.2 121.6L176.5 115.3L176.8 122.0L177.0 138.9L177.2 129.3L177.5 100.9L177.8 119.3L178.0 114.1L178.2 124.5L178.5 118.9L178.8 133.5L179.0 126.5L179.2 126.1L179.5 121.2L179.8 119.5L180.0 122.1L180.2 128.7L180.5 123.3L180.8 117.1L181.0 128.4L181.2 120.7L181.5 118.8L181.8 113.8L182.0 115.3L182.2 114.7L182.5 99.7L182.8 126.0L183.0 122.8L183.2 117.3L183.5 126.0L183.8 121.7L184.0 121.1L184.2 101.3L184.5 116.7L184.8 121.9L185.0 129.3L185.2 130.8L185.5 127.8L185.8 109.8L186.0 102.5L186.2 121.5L186.5 117.5L186.8 123.8L187.0 116.1L187.2 118.3L187.5 106.2L187.8 119.5L188.0 113.1L188.2 118.3L188.5 118.8L188.8 114.6L189.0 117.4L189.2 114.8L189.5 119.9L189.8 117.9L190.0 110.3L190.2 109.8L190.5 125.6L190.8 112.6L191.0 119.9L191.2 115.4L191.5 108.6L191.8 107.0L192.0 112.7L192.2 113.4L192.5 115.6L192.8 102.4L193.0 106.7L193.2 109.9L193.5 121.3L193.8 93.8L194.0 112.9L194.2 105.9L194.5 112.4L194.8 105.8L195.0 111.5L195.2 119.5L195.5 111.0L195.8 111.4L196.0 110.8L196.2 102.9L196.5 111.7L196.8 106.4L197.0 102.2L197.2 107.3L197.5 105.9L197.8 112.6L198.0 107.0L198.2 103.5L198.5 117.1L198.8 113.7L199.0 115.6L199.2 110.9L199.5 105.9L199.8 103.7L200.0 104.6L200.2 112.9L200.5 107.1L200.8 96.1L201.0 105.9L201.2 96.4L201.5 107.1L201.8 97.7L202.0 97.2L202.2 106.6L202.5 105.1L202.8 94.2L203.0 110.7L203.2 120.3L203.5 95.2L203.8 117.8L204.0 100.5L204.2 101.8L204.5 103.9L204.8 95.1L205.0 113.9L205.2 108.3L205.5 99.7L205.8 102.9L206.0 94.3L206.2 102.2L206.5 111.0L206.8 92.8L207.0 101.4L207.2 105.3L207.5 111.4L207.8 113.4L208.0 101.0L208.2 99.0L208.5 107.1L208.8 101.4L209.0 101.7L209.2 111.1L209.5 115.2L209.8 105.4L210.0 102.2L210.2 107.3L210.5 90.4L210.8 103.1L211.0 95.9L211.2 119.4L211.5 107.9L211.8 103.8L212.0 101.4L212.2 85.5L212.5 107.4L212.8 113.6L213.0 97.3L213.2 106.9L213.5 107.0L213.8 91.4L214.0 108.3L214.2 111.0L214.5 103.2L214.8 101.1L215.0 106.8L215.2 90.8L215.5 101.8L215.8 108.3L216.0 92.5L216.2 107.6L216.5 97.9L216.8 86.5L217.0 99.8L217.2 93.8L217.5 102.5L217.8 92.3L218.0 107.3L218.2 95.0L218.5 102.4L218.8 95.8L219.0 97.6L219.2 107.8L219.5 101.1L219.8 96.9L220.0 91.0L220.2 107.3L220.5 104.4L220.8 97.1L221.0 100.9L221.2 92.2L221.5 92.2L221.8 93.5L222.0 101.5L222.2 101.1L222.5 94.0L222.8 104.0L223.0 104.4L223.2 100.2L223.5 106.1L223.8 97.1L224.0 98.5L224.2 102.7L224.5 99.5L224.8 105.4L225.0 91.8L225.2 110.4L225.5 95.8L225.8 100.4L226.0 92.5L226.2 106.3L226.5 111.2L226.8 110.1L227.0 108.8L227.2 92.7L227.5 98.1L227.8 100.3L228.0 97.1L228.2 111.1L228.5 104.8L228.8 103.3L229.0 106.8L229.2 97.0L229.5 97.3L229.8 97.5L230.0 106.8L230.2 105.8L230.5 107.4L230.8 110.8L231.0 94.2L231.2 99.6L231.5 104.4L231.8 94.2L232.0 99.7L232.2 110.2L232.5 110.8L232.8 110.6L233.0 103.5L233.2 101.8L233.5 110.5L233.8 100.6L234.0 105.4L234.2 112.1L234.5 100.6L234.8 98.9L235.0 103.0L235.2 107.1L235.5 106.2L235.8 104.0L236.0 106.7L236.2 92.0L236.5 97.0L236.8 103.9L237.0 96.4L237.2 93.6L237.5 94.4L237.8 96.4L238.0 101.4L238.2 95.6L238.5 104.1L238.8 114.0L239.0 101.4L239.2 111.0L239.5 104.3L239.8 94.6L240.0 100.3L240.2 95.3L240.5 107.0L240.8 93.8L241.0 110.5L241.2 105.2L241.5 87.3L241.8 106.1L242.0 111.1L242.2 94.9L242.5 106.8L242.8 87.5L243.0 101.2L243.2 87.9L243.5 102.2L243.8 86.4L244.0 80.4L244.2 100.7L244.5 113.3L244.8 93.3L245.0 102.7L245.2 97.5L245.5 94.2L245.8 100.3L246.0 107.0L246.2 87.1L246.5 99.1L246.8 97.3L247.0 85.0L247.2 105.4L247.5 107.4L247.8 87.4L248.0 105.5L248.2 93.8L248.5 92.1L248.8 103.3L249.0 94.4L249.2 94.9L249.5 102.9L249.8 101.2L250.0 98.4L250.2 82.8L250.5 81.5L250.8 99.8L251.0 85.8L251.2 93.0L251.5 84.6L251.8 90.6L252.0 83.1L252.2 102.8L252.5 84.7L252.8 90.8L253.0 90.2L253.2 99.7L253.5 81.7L253.8 91.1L254.0 89.9L254.2 94.8L254.5 94.4L254.8 87.9L255.0 92.7L255.2 88.4L255.5 94.1L255.8 90.2L256.0 86.4L256.2 90.6L256.5 93.2L256.8 106.1L257.0 87.3L257.2 92.6L257.5 100.5L257.8 76.3L258.0 78.5L258.2 82.3L258.5 89.5L258.8 106.9L259.0 92.9L259.2 98.4L259.5 88.6L259.8 73.3L260.0 74.3L260.2 96.9L260.5 91.2L260.8 81.1L261.0 97.5L261.2 79.4L261.5 97.6L261.8 99.7L262.0 84.6L262.2 82.2L262.5 95.5L262.8 82.2L263.0 95.5L263.2 81.5L263.5 95.1L263.8 90.2L264.0 86.6L264.2 83.5L264.5 91.1L264.8 76.6L265.0 87.6L265.2 86.8L265.5 94.1L265.8 80.9L266.0 101.1L266.2 87.3L266.5 81.7L266.8 98.8L267.0 100.7L267.2 88.1L267.5 83.3L267.8 89.5L268.0 84.7L268.2 87.3L268.5 100.0L268.8 92.1L269.0 90.4L269.2 91.8L269.5 89.1L269.8 95.2L270.0 95.5L270.2 87.1L270.5 90.3L270.8 106.1L271.0 92.6L271.2 88.5L271.5 103.7L271.8 89.9L272.0 82.5L272.2 94.6L272.5 83.9L272.8 86.7L273.0 92.4L273.2 89.4L273.5 85.1L273.8 86.6L274.0 86.4L274.2 98.5L274.5 85.7L274.8 86.8L275.0 104.7L275.2 87.1L275.5 101.1L275.8 100.0L276.0 90.1L276.2 81.6L276.5 94.4L276.8 96.0L277.0 98.1L277.2 92.0L277.5 99.8L277.8 101.2L278.0 84.6L278.2 101.6L278.5 93.2L278.8 88.2L279.0 90.0L279.2 105.0L279.5 99.0L279.8 80.2L280.0 93.0L280.2 91.6L280.5 91.4L280.8 89.2L281.0 82.8L281.2 98.7L281.5 86.5L281.8 90.4L282.0 88.9L282.2 88.1L282.5 98.2L282.8 95.8L283.0 88.6L283.2 86.8L283.5 90.1L283.8 99.9L284.0 94.2L284.2 95.0L284.5 91.2L284.8 91.7L285.0 94.9L285.2 80.9L285.5 104.5L285.8 88.1L286.0 89.6L286.2 102.6L286.5 95.0L286.8 93.7L287.0 89.5L287.2 82.8L287.5 94.6L287.8 101.5L288.0 87.2L288.2 102.5L288.5 85.5L288.8 88.2L289.0 96.5L289.2 93.0L289.5 97.7L289.8 87.8L290.0 85.8L290.2 80.0L290.5 84.5L290.8 85.2L291.0 82.8L291.2 94.5L291.5 87.8L291.8 78.7L292.0 109.0L292.2 86.3L292.5 83.4L292.8 100.2L293.0 99.6L293.2 83.7L293.5 81.4L293.8 84.5L294.0 98.9L294.2 89.0L294.5 85.5L294.8 90.7L295.0 99.0L295.2 81.2L295.5 87.9L295.8 81.0L296.0 105.1L296.2 102.6L296.5 96.5L296.8 89.1L297.0 94.3L297.2 75.4L297.5 91.5L297.8 80.4L298.0 80.4L298.2 84.5L298.5 86.8L298.8 93.0L299.0 93.7L299.2 90.6L299.5 82.3L299.8 93.2L300.0 87.7L300.2 96.5L300.5 82.1L300.8 69.5L301.0 84.9L301.2 102.7L301.5 91.2L301.8 86.6L302.0 93.8L302.2 91.2L302.5 90.8L302.8 84.1L303.0 88.1L303.2 88.9L303.5 83.1L303.8 79.8L304.0 88.3L304.2 93.9L304.5 91.7L304.8 90.6L305.0 90.7L305.2 104.8L305.5 89.0L305.8 94.3L306.0 100.5L306.2 87.6L306.5 89.0L306.8 94.3L307.0 98.7L307.2 89.3L307.5 89.7L307.8 87.8L308.0 79.0L308.2 94.8L308.5 85.5L308.8 75.6L309.0 86.3L309.2 75.5L309.5 80.5L309.8 87.4L310.0 81.1L310.2 94.6L310.5 77.4L310.8 89.2L311.0 91.2L311.2 97.4L311.5 93.7L311.8 89.1L312.0 88.0L312.2 87.1L312.5 95.3L312.8 83.1L313.0 91.1L313.2 86.9L313.5 89.2L313.8 85.8L314.0 102.2L314.2 83.2L314.5 89.4L314.8 89.6L315.0 91.8L315.2 90.8L315.5 90.6L315.8 94.4L316.0 77.5L316.2 87.9L316.5 79.4L316.8 89.4L317.0 79.8L317.2 81.3L317.5 87.5L317.8 97.4L318.0 91.8L318.2 89.9L318.5 97.5L318.8 81.5L319.0 73.7L319.2 85.1L319.5 86.1L319.8 96.4L320.0 102.5L320.2 78.9L320.5 104.8L320.8 98.6L321.0 93.7L321.2 90.5L321.5 104.5L321.8 88.5L322.0 84.8L322.2 88.9L322.5 78.6L322.8 91.2L323.0 87.2L323.2 90.1L323.5 90.3L323.8 80.6L324.0 96.7L324.2 80.9L324.5 93.8L324.8 76.8L325.0 90.1L325.2 82.0L325.5 87.8L325.8 83.0L326.0 72.6L326.2 79.8L326.5 87.7L326.8 91.5L327.0 77.2L327.2 72.6L327.5 81.1L327.8 85.5L328.0 82.5L328.2 81.3L328.5 92.5L328.8 93.2L329.0 91.6L329.2 80.1L329.5 86.9L329.8 84.9L330.0 76.5L330.2 92.1L330.5 86.6L330.8 82.6L331.0 95.5L331.2 90.9L331.5 91.5L331.8 93.7L332.0 90.3L332.2 76.7L332.5 82.6L332.8 92.0L333.0 79.8L333.2 85.2L333.5 87.6L333.8 94.6L334.0 93.5L334.2 90.7L334.5 83.2L334.8 90.6L335.0 87.9L335.2 83.1L335.5 93.4L335.8 87.4L336.0 78.8L336.2 92.5L336.5 82.1L336.8 87.7L337.0 73.3L337.2 83.4L337.5 77.0L337.8 76.8L338.0 70.3L338.2 97.8L338.5 82.1L338.8 84.7L339.0 90.6L339.2 82.1L339.5 86.4L339.8 73.6L340.0 84.1L340.2 79.9L340.5 86.1L340.8 83.9L341.0 73.2L341.2 70.0L341.5 75.6L341.8 87.5L342.0 85.4L342.2 85.2L342.5 68.7L342.8 64.1L343.0 78.1L343.2 80.1L343.5 78.2L343.8 84.8L344.0 81.2L344.2 74.3L344.5 76.4L344.8 83.3L345.0 82.8L345.2 81.8L345.5 97.7L345.8 80.5L346.0 83.1L346.2 75.5L346.5 79.9L346.8 85.9L347.0 86.2L347.2 81.2L347.5 85.0L347.8 82.7L348.0 69.5L348.2 60.0L348.5 98.0L348.8 88.0L349.0 81.9L349.2 70.5L349.5 73.6L349.8 91.5L350.0 63.3L350.2 80.1L350.5 88.2L350.8 83.3L351.0 87.4L351.2 81.4L351.5 98.6L351.8 75.3L352.0 73.1L352.2 84.2L352.5 92.1L352.8 82.0L353.0 89.6L353.2 78.9L353.5 74.5L353.8 92.1L354.0 93.3L354.2 93.1L354.5 79.7L354.8 74.9L355.0 74.8L355.2 81.3L355.5 86.9L355.8 86.4L356.0 73.3L356.2 84.4L356.5 83.3L356.8 83.8L357.0 83.1L357.2 82.0L357.5 87.4L357.8 84.3L358.0 85.0L358.2 78.9L358.5 86.3L358.8 82.9L359.0 69.4L359.2 87.1L359.5 82.1L359.8 90.2L360.0 82.9L360.2 83.4L360.5 85.5L360.8 84.1L361.0 81.1L361.2 72.0L361.5 96.8L361.8 73.6L362.0 82.0L362.2 88.8L362.5 87.0L362.8 88.3L363.0 89.7L363.2 93.1L363.5 86.5L363.8 104.3L364.0 77.6L364.2 86.0L364.5 82.0L364.8 80.7L365.0 86.4L365.2 94.3L365.5 79.4L365.8 79.3L366.0 89.0L366.2 87.7L366.5 97.1L366.8 90.7L367.0 85.1L367.2 81.2L367.5 84.7L367.8 81.9L368.0 73.6L368.2 82.8L368.5 81.3L368.8 80.8L369.0 79.2L369.2 93.5L369.5 86.5L369.8 88.0L370.0 77.3L370.2 74.3L370.5 79.1L370.8 82.5L371.0 78.3L371.2 79.2L371.5 86.9L371.8 82.3L372.0 73.4L372.2 77.0L372.5 75.4L372.8 81.0L373.0 71.7L373.2 78.3L373.5 84.2L373.8 79.6L374.0 73.1L374.2 75.0L374.5 80.0L374.8 82.3L375.0 84.7L375.2 77.9L375.5 69.8L375.8 88.4L376.0 80.7L376.2 81.3L376.5 80.6L376.8 71.3L377.0 76.1L377.2 80.0L377.5 85.2L377.8 78.5L378.0 56.8L378.2 76.3L378.5 80.2L378.8 86.6L379.0 82.5L379.2 94.6L379.5 87.2L379.8 86.6L380.0 83.8L380.2 67.9L380.5 83.0L380.8 81.3L381.0 73.5L381.2 81.0L381.5 79.8L381.8 73.8L382.0 76.0L382.2 75.0L382.5 78.3L382.8 73.8L383.0 80.3L383.2 63.5L383.5 74.6L383.8 65.0L384.0 73.1L384.2 79.9L384.5 76.4L384.8 75.5L385.0 76.7L385.2 86.8L385.5 68.6L385.8 82.1L386.0 65.7L386.2 72.8L386.5 77.1L386.8 70.1L387.0 77.3L387.2 80.8L387.5 67.7L387.8 75.3L388.0 73.2L388.2 62.5L388.5 74.4L388.8 70.3L389.0 84.8L389.2 69.7L389.5 87.2L389.8 72.0L390.0 88.8L390.2 79.3L390.5 78.7L390.8 81.1L391.0 81.7L391.2 85.1L391.5 87.4L391.8 73.3L392.0 67.1L392.2 57.5L392.5 73.0L392.8 80.9L393.0 78.3L393.2 76.5L393.5 73.4L393.8 71.5L394.0 73.9L394.2 78.5L394.5 63.9L394.8 80.9L395.0 66.1L395.2 75.0L395.5 71.8L395.8 73.7L396.0 69.1L396.2 68.4L396.5 74.8L396.8 69.0L397.0 93.2L397.2 73.7L397.5 72.1L397.8 72.9L398.0 69.4L398.2 60.0L398.5 75.1L398.8 79.0L399.0 66.7L399.2 77.0L399.5 68.8L399.8 76.9L400.0 79.6L400.2 80.6L400.5 80.3L400.8 72.6L401.0 83.5L401.2 74.5L401.5 80.0L401.8 82.5L402.0 75.7L402.2 69.1L402.5 82.0L402.8 70.3L403.0 71.9L403.2 70.5L403.5 83.8L403.8 77.0L404.0 62.9L404.2 83.2L404.5 92.4L404.8 90.6L405.0 74.5L405.2 79.0L405.5 81.9L405.8 84.6L406.0 78.8L406.2 71.2L406.5 83.8L406.8 82.9L407.0 69.8L407.2 76.4L407.5 80.8L407.8 79.0L408.0 82.6L408.2 84.5L408.5 82.9L408.8 78.5L409.0 70.1L409.2 83.5L409.5 89.0L409.8 92.9L410.0 79.3L410.2 79.4L410.5 89.5L410.8 89.5L411.0 82.1L411.2 84.7L411.5 74.7L411.8 83.9L412.0 74.4L412.2 79.1L412.5 79.3L412.8 77.0L413.0 65.9L413.2 74.7L413.5 82.6L413.8 80.0L414.0 77.8L414.2 83.4L414.5 85.2L414.8 86.3L415.0 75.1L415.2 80.8L415.5 78.4L415.8 74.8L416.0 70.6L416.2 80.1L416.5 74.9L416.8 95.5L417.0 80.2L417.2 79.4L417.5 78.3L417.8 93.7L418.0 74.6L418.2 79.9L418.5 75.8L418.8 80.2L419.0 80.8L419.2 88.5L419.5 71.5L419.8 80.9L420.0 92.1L420.2 77.6L420.5 79.9L420.8 75.0L421.0 63.2L421.2 80.3L421.5 89.0L421.8 77.8L422.0 68.4L422.2 82.8L422.5 81.5L422.8 87.7L423.0 87.0L423.2 79.0L423.5 83.5L423.8 68.5L424.0 88.3L424.2 81.9L424.5 88.0L424.8 87.8L425.0 78.5L425.2 79.4L425.5 74.4L425.8 66.3L426.0 79.4L426.2 81.2L426.5 72.8L426.8 84.9L427.0 80.7L427.2 83.0L427.5 74.6L427.8 67.8L428.0 85.0L428.2 83.8L428.5 78.8L428.8 76.7L429.0 77.6L429.2 78.4L429.5 75.8L429.8 65.6L430.0 84.5L430.2 68.9L430.5 76.7L430.8 76.8L431.0 80.6L431.2 67.8L431.5 86.9L431.8 83.1L432.0 83.8L432.2 87.1L432.5 73.0L432.8 57.0L433.0 80.5L433.2 87.1L433.5 86.1L433.8 74.4L434.0 77.4L434.2 79.9L434.5 65.6L434.8 73.3L435.0 73.4L435.2 88.5L435.5 73.2L435.8 88.3L436.0 77.6L436.2 66.1L436.5 92.5L436.8 70.7L437.0 81.5L437.2 88.9L437.5 73.6L437.8 68.8L438.0 84.2L438.2 77.5L438.5 68.7L438.8 69.6L439.0 74.3L439.2 83.5L439.5 74.9L439.8 81.3L440.0 88.1L440.2 85.4L440.5 86.5L440.8 85.1L441.0 65.8L441.2 85.0L441.5 78.9L441.8 75.9L442.0 69.3L442.2 65.9L442.5 69.2L442.8 76.6L443.0 68.8L443.2 71.2L443.5 72.6L443.8 81.4L444.0 74.9L444.2 76.0L444.5 86.1L444.8 75.0L445.0 81.3L445.2 70.1L445.5 79.7L445.8 78.3L446.0 78.8L446.2 74.6L446.5 70.8L446.8 75.9L447.0 74.9L447.2 85.2L447.5 84.5L447.8 70.2L448.0 82.8L448.2 75.4L448.5 81.9L448.8 75.6L449.0 69.0L449.2 86.0L449.5 82.3L449.8 70.9L450.0 66.5L450.2 75.8L450.5 71.5L450.8 77.2L451.0 83.9L451.2 89.8L451.5 77.4L451.8 89.3L452.0 87.9L452.2 77.1L452.5 68.7L452.8 85.9L453.0 84.2L453.2 96.1L453.5 89.8L453.8 85.4L454.0 91.6L454.2 72.9L454.5 81.3L454.8 78.1L455.0 91.8L455.2 83.7L455.5 59.0L455.8 89.1L456.0 73.5L456.2 84.9L456.5 76.3L456.8 81.1L457.0 83.7L457.2 80.6L457.5 72.7L457.8 88.6L458.0 81.7L458.2 78.7L458.5 83.5L458.8 75.0L459.0 91.3L459.2 79.9L459.5 80.7L459.8 80.5L460.0 71.8L460.2 69.9L460.5 79.2L460.8 80.0L461.0 86.6L461.2 80.4L461.5 69.8L461.8 80.7L462.0 82.6L462.2 83.6L462.5 79.0L462.8 68.2L463.0 84.3L463.2 71.3L463.5 80.1L463.8 65.4L464.0 81.1L464.2 70.5L464.5 83.1L464.8 87.6L465.0 83.5L465.2 67.5L465.5 68.9L465.8 69.3L466.0 79.6L466.2 77.4L466.5 76.1L466.8 77.0L467.0 78.8L467.2 79.2L467.5 86.2L467.8 74.3L468.0 76.0L468.2 62.0L468.5 65.6L468.8 69.9L469.0 66.5L469.2 76.1L469.5 81.7L469.8 71.7L470.0 71.4L470.2 71.2L470.5 75.7L470.8 71.1L471.0 77.8L471.2 77.0L471.5 77.4L471.8 80.4L472.0 75.5L472.2 76.3L472.5 87.4L472.8 75.3L473.0 81.1L473.2 76.2L473.5 72.8L473.8 72.9L474.0 70.6L474.2 76.4L474.5 72.3L474.8 73.7L475.0 85.0L475.2 75.9L475.5 84.7L475.8 78.9L476.0 83.0L476.2 73.1L476.5 78.4L476.8 95.4L477.0 83.2L477.2 84.5L477.5 79.4L477.8 83.7L478.0 70.0L478.2 72.2L478.5 81.0L478.8 83.7L479.0 75.4L479.2 76.9L479.5 75.8L479.8 77.0L480.0 70.1L480.2 68.5L480.5 77.7L480.8 66.3L481.0 71.5L481.2 73.6L481.5 70.8L481.8 79.5L482.0 74.7L482.2 77.1L482.5 70.6L482.8 72.3L483.0 80.7L483.2 79.5L483.5 73.7L483.8 79.2L484.0 77.8L484.2 77.4L484.5 87.0L484.8 73.2L485.0 78.6L485.2 78.4L485.5 73.7L485.8 67.2L486.0 79.6L486.2 76.4L486.5 74.7L486.8 74.3L487.0 74.1L487.2 67.6L487.5 75.4L487.8 60.9L488.0 72.8L488.2 62.5L488.5 70.1L488.8 77.1L489.0 70.2L489.2 68.5L489.5 75.0L489.8 69.4L490.0 68.3L490.2 68.2L490.5 80.9L490.8 74.9L491.0 73.5L491.2 61.9L491.5 74.0L491.8 60.8L492.0 72.7L492.2 61.7L492.5 82.4L492.8 57.5L493.0 77.1L493.2 74.1L493.5 56.5L493.8 66.8L494.0 78.2L494.2 76.0L494.5 57.0L494.8 64.6L495.0 60.1L495.2 61.1L495.5 63.7L495.8 80.6L496.0 69.0L496.2 66.6L496.5 65.8L496.8 72.7L497.0 72.9L497.2 62.0L497.5 78.2L497.8 61.0L498.0 66.5L498.2 71.5L498.5 80.1L498.8 66.2L499.0 70.6L499.2 77.6L499.5 73.1L499.8 76.6L500.0 76.0L500.2 70.8L500.5 73.4L500.8 75.5L501.0 69.1L501.2 80.3L501.5 56.0L501.8 63.3L502.0 79.5L502.2 72.7L502.5 65.5L502.8 72.5L503.0 77.4L503.2 66.3L503.5 75.4L503.8 69.4L504.0 69.6L504.2 69.9L504.5 78.0L504.8 62.9L505.0 68.1L505.2 75.1L505.5 62.4L505.8 60.0L506.0 74.6L506.2 70.8L506.5 69.8L506.8 71.7L507.0 64.2L507.2 90.6L507.5 64.0L507.8 67.7L508.0 61.0L508.2 67.7L508.5 80.9L508.8 70.6L509.0 74.4L509.2 67.0L509.5 82.5L509.8 71.2L510.0 61.5L510.2 75.1L510.5 67.2L510.8 73.8L511.0 70.5L511.2 71.2L511.5 70.2L511.8 63.0L512.0 58.9L512.2 75.6L512.5 67.9L512.8 70.7L513.0 65.5L513.2 54.8L513.5 59.8L513.8 77.9L514.0 63.0L514.2 65.7L514.5 58.2L514.8 64.6L515.0 65.6L515.2 66.6L515.5 67.6L515.8 63.8L516.0 64.2L516.2 68.0L516.5 70.3L516.8 67.2L517.0 80.1L517.2 69.8L517.5 69.6L517.8 64.1L518.0 75.7L518.2 61.9L518.5 58.0L518.8 62.5L519.0 73.5L519.2 61.7L519.5 78.5L519.8 69.7L520.0 59.7L520.2 68.7L520.5 82.5L520.8 64.8L521.0 61.9L521.2 74.5L521.5 80.1L521.8 78.3L522.0 69.4L522.2 73.1L522.5 74.2L522.8 80.2L523.0 87.0L523.2 71.8L523.5 81.6L523.8 70.6L524.0 77.1L524.2 66.9L524.5 68.2L524.8 76.3L525.0 67.5L525.2 79.7L525.5 70.0L525.8 74.4L526.0 73.4L526.2 71.7L526.5 74.9L526.8 81.4L527.0 95.1L527.2 65.9L527.5 76.0L527.8 72.7L528.0 67.7L528.2 75.8L528.5 67.8L528.8 73.2L529.0 82.1L529.2 59.8L529.5 75.1L529.8 76.4L530.0 66.7L530.2 76.7L530.5 75.4L530.8 70.5L531.0 81.0L531.2 63.8L531.5 76.9L531.8 70.8L532.0 65.1L532.2 71.0L532.5 69.7L532.8 77.5L533.0 61.6L533.2 70.3L533.5 68.4L533.8 82.1L534.0 63.7L534.2 78.4L534.5 59.1L534.8 73.3L535.0 69.9L535.2 73.3L535.5 65.9L535.8 57.3L536.0 60.0L536.2 79.3L536.5 71.8L536.8 64.4L537.0 76.3L537.2 65.1L537.5 65.1L537.8 61.9L538.0 78.1L538.2 83.5L538.5 63.6L538.8 72.2L539.0 76.9L539.2 84.7L539.5 54.1L539.8 71.4L540.0 74.9L540.2 60.6L540.5 73.5L540.8 72.2L541.0 75.9L541.2 67.2L541.5 74.1L541.8 67.3L542.0 75.7L542.2 72.8L542.5 69.3L542.8 62.4L543.0 83.4L543.2 79.9L543.5 78.5L543.8 68.1L544.0 70.4L544.2 84.3L544.5 78.2L544.8 67.5L545.0 73.8L545.2 74.6L545.5 72.4L545.8 67.5L546.0 82.6L546.2 78.2L546.5 73.0L546.8 63.7L547.0 70.6L547.2 74.6L547.5 80.6L547.8 72.3L548.0 82.4L548.2 75.9L548.5 69.9L548.8 56.0L549.0 67.0L549.2 64.9L549.5 74.0L549.8 77.3L550.0 84.4L550.2 74.8L550.5 66.9L550.8 90.7L551.0 76.7L551.2 72.7L551.5 72.6L551.8 65.0L552.0 78.4L552.2 76.5L552.5 84.6L552.8 81.1L553.0 79.3L553.2 81.8L553.5 71.1L553.8 69.8L554.0 72.3L554.2 64.0L554.5 71.3L554.8 69.8L555.0 76.4L555.2 71.6L555.5 58.5L555.8 71.5L556.0 80.7L556.2 58.5L556.5 65.6L556.8 70.7L557.0 61.4L557.2 66.5L557.5 70.5L557.8 61.0L558.0 71.9L558.2 72.5L558.5 61.0L558.8 69.7L559.0 76.8L559.2 68.2L559.5 72.3L559.8 73.7L560.0 67.7L560.2 76.0L560.5 71.9L560.8 62.6L561.0 73.0L561.2 75.5L561.5 75.2L561.8 65.5L562.0 73.2L562.2 79.6L562.5 72.1L562.8 78.8L563.0 79.9L563.2 71.0L563.5 76.0L563.8 69.8L564.0 79.4L564.2 71.7L564.5 68.9L564.8 72.7L565.0 72.7L565.2 76.0L565.5 76.8L565.8 66.0L566.0 69.7L566.2 76.8L566.5 77.8L566.8 75.2L567.0 92.7L567.2 82.5L567.5 74.5L567.8 80.0L568.0 84.2L568.2 77.6L568.5 63.2L568.8 75.7L569.0 75.3L569.2 89.4L569.5 62.2L569.8 85.1L570.0 73.4L570.2 80.6L570.5 72.1L570.8 75.1L571.0 81.4L571.2 74.1L571.5 80.4L571.8 72.5L572.0 70.0L572.2 71.1L572.5 68.9L572.8 71.2L573.0 81.1L573.2 63.6L573.5 60.0L573.8 70.9L574.0 82.3L574.2 77.7L574.5 79.3L574.8 78.6L575.0 64.9L575.2 70.5L575.5 51.4L575.8 65.2L576.0 73.3L576.2 58.4L576.5 54.8L576.8 59.9L577.0 70.1L577.2 76.5L577.5 86.1L577.8 78.2L578.0 58.2L578.2 52.7L578.5 69.6L578.8 75.8L579.0 57.6L579.2 65.1L579.5 65.7L579.8 69.1L580.0 67.7L580.2 72.6L580.5 76.4L580.8 69.8L581.0 74.5L581.2 83.1L581.5 62.7L581.8 62.7L582.0 73.4L582.2 82.7L582.5 71.4L582.8 77.8L583.0 68.5L583.2 77.0L583.5 66.6L583.8 75.7L584.0 73.9L584.2 74.1L584.5 81.0L584.8 79.0L585.0 67.9L585.2 78.2L585.5 60.8L585.8 79.2L586.0 91.4L586.2 76.4L586.5 76.5L586.8 73.6L587.0 79.0L587.2 70.4L587.5 78.2L587.8 71.9L588.0 71.0L588.2 74.9L588.5 73.8L588.8 62.5L589.0 88.5L589.2 75.5L589.5 63.1L589.8 82.0L590.0 74.6L590.2 76.2L590.5 79.7L590.8 68.8L591.0 54.9L591.2 74.3L591.5 76.6L591.8 81.8L592.0 69.8L592.2 73.1L592.5 77.5L592.8 72.6L593.0 73.0L593.2 76.3L593.5 67.7L593.8 85.2L594.0 68.0L594.2 74.4L594.5 71.8L594.8 69.1L595.0 77.4L595.2 80.5L595.5 83.3L595.8 77.2L596.0 70.1L596.2 78.8L596.5 63.0L596.8 72.9L597.0 76.0L597.2 76.3L597.5 64.6L597.8 62.2L598.0 83.7L598.2 68.9L598.5 61.2L598.8 63.9L599.0 72.4L599.2 80.3L599.5 72.3" stroke="#ff0000" stroke-opacity="0.26" stroke-width="3.6"/>
<path d="M106.0 359.5L106.8 354.1L107.6 347.9L108.4 341.9L109.2 336.0L110.0 330.0L110.8 323.8L111.6 317.6L112.4 311.6L113.2 306.0L114.0 301.3L114.8 296.9L115.6 293.6L116.4 289.8L117.2 286.6L118.0 283.5L118.8 279.9L119.6 276.3L120.4 272.2L121.2 268.1L122.0 264.2L122.8 261.1L123.6 258.5L124.4 257.0L125.2 255.0L126.0 253.3L126.8 251.8L127.6 250.9L128.4 248.8L129.2 247.4L130.0 245.5L130.8 243.9L131.6 241.6L132.4 240.1L133.2 238.3L134.0 236.6L134.8 234.7L135.6 232.4L136.4 230.3L137.2 228.6L138.0 226.4L138.8 225.4L139.6 224.0L140.4 223.1L141.2 222.3L142.0 221.7L142.8 221.7L143.6 221.2L144.4 220.6L145.2 220.3L146.0 219.6L146.8 219.0L147.6 218.2L148.4 218.0L149.2 217.3L150.0 216.4L150.8 214.7L151.6 213.5L152.4 211.9L153.2 211.3L154.0 210.1L154.8 209.2L155.6 208.5L156.4 208.0L157.2 207.6L158.0 207.6L158.8 206.8L159.6 206.9L160.4 206.5L161.2 206.0L162.0 205.6L162.8 205.6L163.6 205.6L164.4 205.0L165.2 205.2L166.0 205.0L166.8 204.3L167.6 203.1L168.4 202.1L169.2 202.0L170.0 201.2L170.8 199.8L171.6 199.1L172.4 198.1L173.2 197.3L174.0 197.0L174.8 195.9L175.6 195.5L176.4 195.0L177.2 193.9L178.0 193.7L178.8 192.3L179.6 192.2L180.4 191.4L181.2 191.4L182.0 190.2L182.8 189.5L183.6 189.6L184.4 188.4L185.2 188.5L186.0 187.8L186.8 187.9L187.6 187.2L188.4 187.1L189.2 186.6L190.0 186.0L190.8 185.4L191.6 186.1L192.4 185.4L193.2 184.8L194.0 184.7L194.8 184.7L195.6 183.8L196.4 184.4L197.2 183.4L198.0 183.0L198.8 183.0L199.6 182.3L200.4 181.6L201.2 181.6L202.0 181.0L202.8 180.6L203.6 179.5L204.4 178.9L205.2 178.7L206.0 177.9L206.8 176.8L207.6 176.6L208.4 176.4L209.2 175.5L210.0 175.4L210.8 174.5L211.6 174.1L212.4 173.3L213.2 173.0L214.0 172.7L214.8 172.5L215.6 171.9L216.4 171.7L217.2 170.5L218.0 170.6L218.8 170.2L219.6 169.8L220.4 169.8L221.2 169.5L222.0 169.9L222.8 170.0L223.6 170.9L224.4 171.3L225.2 172.7L226.0 173.4L226.8 174.4L227.6 174.4L228.4 174.5L229.2 174.5L230.0 173.9L230.8 173.2L231.6 172.6L232.4 171.7L233.2 170.5L234.0 169.5L234.8 168.2L235.6 167.3L236.4 165.8L237.2 165.5L238.0 164.1L238.8 163.5L239.6 162.3L240.4 162.1L241.2 161.7L242.0 161.9L242.8 162.0L243.6 161.4L244.4 162.2L245.2 161.6L246.0 162.5L246.8 162.3L247.6 162.1L248.4 162.8L249.2 162.8L250.0 162.7L250.8 162.9L251.6 163.3L252.4 163.0L253.2 163.2L254.0 163.9L254.8 163.3L255.6 163.6L256.4 163.5L257.2 163.6L258.0 163.4L258.8 162.4L259.6 162.7L260.4 162.8L261.2 162.1L262.0 162.5L262.8 161.8L263.6 161.2L264.4 161.4L265.2 161.4L266.0 160.5L266.8 160.6L267.6 160.1L268.4 160.0L269.2 160.0L270.0 159.9L270.8 159.7L271.6 159.5L272.4 159.8L273.2 158.8L274.0 158.4L274.8 158.9L275.6 158.6L276.4 158.1L277.2 158.7L278.0 158.0L278.8 157.7L279.6 158.1L280.4 158.1L281.2 158.5L282.0 157.5L282.8 157.7L283.6 158.2L284.4 158.5L285.2 159.0L286.0 159.2L286.8 159.5L287.6 160.2L288.4 160.8L289.2 161.2L290.0 161.0L290.8 161.3L291.6 161.1L292.4 160.3L293.2 159.6L294.0 158.9L294.8 158.7L295.6 157.1L296.4 156.1L297.2 155.8L298.0 155.3L298.8 155.4L299.6 154.3L300.4 154.2L301.2 154.4L302.0 154.1L302.8 153.7L303.6 153.6L304.4 152.9L305.2 153.1L306.0 152.5L306.8 152.3L307.6 152.7L308.4 152.2L309.2 152.3L310.0 152.5L310.8 152.0L311.6 152.6L312.4 153.4L313.2 153.3L314.0 154.2L314.8 154.8L315.6 154.8L316.4 155.2L317.2 155.7L318.0 155.2L318.8 155.7L319.6 155.7L320.4 155.7L321.2 155.6L322.0 155.7L322.8 155.1L323.6 155.4L324.4 155.0L325.2 154.9L326.0 154.5L326.8 154.6L327.6 154.0L328.4 154.2L329.2 154.1L330.0 153.4L330.8 153.2L331.6 153.0L332.4 152.9L333.2 152.6L334.0 152.3L334.8 152.1L335.6 151.6L336.4 150.7L337.2 150.0L338.0 149.3L338.8 149.2L339.6 148.6L340.4 147.9L341.2 147.4L342.0 146.9L342.8 145.8L343.6 146.0L344.4 145.7L345.2 145.2L346.0 144.7L346.8 144.7L347.6 144.7L348.4 145.0L349.2 144.8L350.0 144.8L350.8 144.9L351.6 144.9L352.4 145.5L353.2 145.7L354.0 146.5L354.8 147.2L355.6 147.6L356.4 148.0L357.2 148.2L358.0 148.7L358.8 148.6L359.6 148.3L360.4 148.8L361.2 148.7L362.0 148.0L362.8 148.0L363.6 147.2L364.4 147.3L365.2 147.3L366.0 146.4L366.8 146.6L367.6 146.0L368.4 145.5L369.2 145.0L370.0 145.3L370.8 145.0L371.6 144.3L372.4 144.3L373.2 144.5L374.0 143.9L374.8 144.2L375.6 143.7L376.4 144.1L377.2 144.7L378.0 144.5L378.8 144.7L379.6 145.0L380.4 145.5L381.2 145.5L382.0 146.1L382.8 146.4L383.6 146.8L384.4 146.3L385.2 146.8L386.0 146.5L386.8 146.2L387.6 146.3L388.4 146.5L389.2 146.4L390.0 146.0L390.8 145.7L391.6 145.7L392.4 145.4L393.2 144.7L394.0 143.9L394.8 143.4L395.6 142.0L396.4 142.0L397.2 141.7L398.0 142.1L398.8 142.1L399.6 142.1L400.4 141.6L401.2 141.6L402.0 141.8L402.8 141.6L403.6 141.5L404.4 141.4L405.2 141.3L406.0 141.1L406.8 141.1L407.6 140.5L408.4 140.7L409.2 140.3L410.0 140.6L410.8 140.3L411.6 140.6L412.4 141.0L413.2 140.9L414.0 141.7L414.8 142.8L415.6 143.9L416.4 144.4L417.2 144.8L418.0 145.0L418.8 144.9L419.6 145.0L420.4 144.8L421.2 144.4L422.0 143.9L422.8 143.3L423.6 143.1L424.4 142.8L425.2 142.2L426.0 142.2L426.8 141.4L427.6 141.4L428.4 141.1L429.2 140.8L430.0 140.2L430.8 139.9L431.6 139.0L432.4 138.6L433.2 138.7L434.0 137.9L434.8 137.9L435.6 137.4L436.4 138.0L437.2 137.9L438.0 137.5L438.8 137.2L439.6 137.6L440.4 137.6L441.2 137.8L442.0 138.0L442.8 137.5L443.6 137.4L444.4 137.4L445.2 137.3L446.0 137.1L446.8 137.2L447.6 137.5L448.4 137.3L449.2 137.8L450.0 138.9L450.8 139.0L451.6 140.0L452.4 140.6L453.2 140.9L454.0 141.6L454.8 141.7L455.6 141.8L456.4 142.1L457.2 142.1L458.0 142.0L458.8 141.9L459.6 141.6L460.4 141.8L461.2 141.3L462.0 141.0L462.8 141.0L463.6 140.3L464.4 140.3L465.2 140.3L466.0 139.7L466.8 139.8L467.6 139.1L468.4 138.8L469.2 138.6L470.0 138.3L470.8 138.2L471.6 138.1L472.4 138.3L473.2 138.1L474.0 138.0L474.8 137.8L475.6 138.8L476.4 138.0L477.2 138.4L478.0 137.8L478.8 137.9L479.6 138.5L480.4 137.9L481.2 138.0L482.0 138.3L482.8 138.1L483.6 138.3L484.4 138.4L485.2 138.6L486.0 138.5L486.8 138.5L487.6 138.8L488.4 138.9L489.2 138.4L490.0 138.0L490.8 138.2L491.6 138.6L492.4 138.1L493.2 137.8L494.0 137.5L494.8 137.7L495.6 137.0L496.4 136.5L497.2 136.0L498.0 135.5L498.8 136.0L499.6 134.9L500.4 134.5L501.2 134.0L502.0 134.0L502.8 133.1L503.6 132.6L504.4 132.7L505.2 132.7L506.0 133.0L506.8 132.4L507.6 132.3L508.4 132.8L509.2 133.2L510.0 134.0L510.8 135.0L511.6 135.9L512.4 136.6L513.2 137.8L514.0 138.2L514.8 138.8L515.6 138.9L516.4 139.2L517.2 139.0L518.0 138.7L518.8 137.9L519.6 137.7L520.4 136.7L521.2 136.1L522.0 135.5L522.8 134.9L523.6 133.6L524.4 132.7L525.2 132.3L526.0 131.9L526.8 131.0L527.6 131.2L528.4 129.9L529.2 130.6L530.0 130.5L530.8 130.5L531.6 130.1L532.4 130.8L533.2 130.8L534.0 131.0L534.8 130.7L535.6 130.8L536.4 131.3L537.2 131.2L538.0 131.1L538.8 131.0L539.6 131.4L540.4 131.0L541.2 131.4L542.0 131.3L542.8 130.8L543.6 131.3L544.4 131.4L545.2 131.1L546.0 130.6L546.8 130.6L547.6 130.9L548.4 130.3L549.2 130.4L550.0 130.7L550.8 130.3L551.6 130.1L552.4 130.5L553.2 130.6L554.0 130.3L554.8 129.9L555.6 129.9L556.4 130.4L557.2 130.2L558.0 130.8L558.8 131.3L559.6 130.7L560.4 131.6L561.2 132.0L562.0 132.1L562.8 132.6L563.6 132.9L564.4 133.4L565.2 134.1L566.0 133.7L566.8 133.7L567.6 133.9L568.4 134.0L569.2 134.7L570.0 134.7L570.8 134.8L571.6 134.8L572.4 135.0L573.2 134.7L574.0 134.3L574.8 133.4L575.6 133.0L576.4 132.2L577.2 131.7L578.0 131.3L578.8 130.4L579.6 130.1L580.4 130.3L581.2 129.4L582.0 128.8L582.8 128.8L583.6 129.1L584.4 129.5L585.2 129.5L586.0 130.0L586.8 130.1L587.6 130.1L588.4 130.9L589.2 130.8L590.0 131.6L590.8 131.1L591.6 131.3L592.4 131.1L593.2 131.1L594.0 131.1L594.8 130.7L595.6 130.7L596.4 130.1L597.2 129.9L598.0 129.1L598.8 128.8" stroke="#0000ff" stroke-width="1.5"/>
<path d="M100.0 379.7L100.8 373.0L101.6 365.7L102.4 358.7L103.2 351.8L104.0 345.4L104.8 337.9L105.6 331.3L106.4 324.3L107.2 317.5L108.0 310.5L108.8 303.6L109.6 296.0L110.4 289.0L111.2 281.8L112.0 274.3L112.8 267.2L113.6 259.5L114.4 252.5L115.2 244.5L116.0 237.1L116.8 230.0L117.6 223.1L118.4 216.1L119.2 209.8L120.0 203.9L120.8 197.0L121.6 192.8L122.4 188.1L123.2 183.2L124.0 180.3L124.8 177.2L125.6 174.8L126.4 172.0L127.2 170.7L128.0 169.3L128.8 168.0L129.6 166.8L130.4 165.8L131.2 164.2L132.0 163.9L132.8 162.8L133.6 161.9L134.4 160.6L135.2 159.4L136.0 158.1L136.8 156.9L137.6 154.6L138.4 153.6L139.2 151.5L140.0 149.7L140.8 148.1L141.6 147.3L142.4 145.5L143.2 145.1L144.0 144.0L144.8 143.0L145.6 142.2L146.4 141.7L147.2 140.9L148.0 140.3L148.8 139.4L149.6 138.5L150.4 137.9L151.2 136.6L152.0 136.1L152.8 134.8L153.6 133.5L154.4 132.5L155.2 131.7L156.0 130.4L156.8 130.5L157.6 129.8L158.4 128.8L159.2 128.5L160.0 128.6L160.8 127.8L161.6 127.1L162.4 126.4L163.2 126.2L164.0 126.5L164.8 126.0L165.6 125.2L166.4 125.4L167.2 124.8L168.0 124.4L168.8 124.1L169.6 123.8L170.4 124.0L171.2 123.1L172.0 122.9L172.8 123.1L173.6 122.8L174.4 121.9L175.2 122.4L176.0 121.9L176.8 121.0L177.6 121.6L178.4 120.5L179.2 120.8L180.0 120.2L180.8 119.8L181.6 120.3L182.4 120.0L183.2 119.6L184.0 119.5L184.8 119.2L185.6 118.9L186.4 118.4L187.2 118.6L188.0 118.1L188.8 117.6L189.6 117.0L190.4 116.5L191.2 115.4L192.0 114.9L192.8 113.9L193.6 113.6L194.4 112.1L195.2 111.4L196.0 110.6L196.8 110.0L197.6 109.2L198.4 108.5L199.2 108.5L200.0 107.6L200.8 107.3L201.6 107.6L202.4 106.4L203.2 106.6L204.0 106.2L204.8 105.5L205.6 105.4L206.4 105.5L207.2 104.8L208.0 104.8L208.8 104.9L209.6 104.4L210.4 104.3L211.2 103.8L212.0 103.6L212.8 103.3L213.6 103.1L214.4 103.0L215.2 102.6L216.0 102.7L216.8 102.0L217.6 101.5L218.4 101.7L219.2 100.7L220.0 100.2L220.8 100.1L221.6 99.6L222.4 99.7L223.2 99.7L224.0 99.3L224.8 99.0L225.6 99.0L226.4 99.2L227.2 100.1L228.0 100.8L228.8 102.0L229.6 103.3L230.4 103.5L231.2 103.6L232.0 103.6L232.8 103.3L233.6 103.4L234.4 103.6L235.2 103.2L236.0 103.2L236.8 103.2L237.6 103.1L238.4 103.6L239.2 102.6L240.0 102.7L240.8 103.1L241.6 102.4L242.4 102.3L243.2 101.4L244.0 101.4L244.8 100.6L245.6 99.7L246.4 98.5L247.2 97.7L248.0 96.6L248.8 95.8L249.6 94.7L250.4 94.1L251.2 92.8L252.0 92.6L252.8 91.6L253.6 92.0L254.4 92.0L255.2 91.6L256.0 92.0L256.8 91.0L257.6 91.0L258.4 90.6L259.2 90.6L260.0 90.4L260.8 90.0L261.6 90.0L262.4 90.6L263.2 89.9L264.0 90.1L264.8 89.4L265.6 89.6L266.4 89.7L267.2 89.5L268.0 89.3L268.8 89.4L269.6 89.4L270.4 89.6L271.2 89.7L272.0 89.1L272.8 89.1L273.6 89.7L274.4 89.9L275.2 90.3L276.0 90.6L276.8 90.4L277.6 91.3L278.4 91.1L279.2 90.9L280.0 91.9L280.8 92.0L281.6 92.2L282.4 92.0L283.2 92.6L284.0 92.9L284.8 93.0L285.6 93.4L286.4 93.7L287.2 93.8L288.0 93.8L288.8 93.5L289.6 93.9L290.4 93.4L291.2 93.4L292.0 92.9L292.8 92.4L293.6 91.9L294.4 92.2L295.2 91.7L296.0 91.5L296.8 91.3L297.6 90.4L298.4 89.9L299.2 90.1L300.0 89.7L300.8 89.2L301.6 88.8L302.4 88.2L303.2 88.3L304.0 87.8L304.8 87.9L305.6 87.8L306.4 87.3L307.2 87.4L308.0 87.3L308.8 87.4L309.6 87.6L310.4 87.4L311.2 87.4L312.0 87.5L312.8 87.2L313.6 87.4L314.4 87.5L315.2 87.8L316.0 87.9L316.8 88.2L317.6 87.4L318.4 87.7L319.2 87.3L320.0 87.7L320.8 87.4L321.6 88.1L322.4 88.1L323.2 87.6L324.0 88.0L324.8 88.1L325.6 88.3L326.4 87.9L327.2 87.6L328.0 87.4L328.8 87.4L329.6 87.1L330.4 86.7L331.2 86.2L332.0 86.5L332.8 85.8L333.6 85.6L334.4 85.6L335.2 85.1L336.0 85.1L336.8 84.2L337.6 84.4L338.4 83.6L339.2 83.3L340.0 83.1L340.8 83.2L341.6 82.8L342.4 82.4L343.2 82.9L344.0 82.2L344.8 82.3L345.6 82.4L346.4 82.2L347.2 82.4L348.0 82.5L348.8 82.3L349.6 82.6L350.4 82.2L351.2 82.0L352.0 82.4L352.8 82.1L353.6 82.4L354.4 82.3L355.2 82.3L356.0 82.7L356.8 82.8L357.6 82.1L358.4 82.9L359.2 83.2L360.0 83.5L360.8 83.5L361.6 83.5L362.4 84.0L363.2 84.3L364.0 83.8L364.8 84.0L365.6 84.3L366.4 83.9L367.2 84.3L368.0 84.5L368.8 83.7L369.6 83.5L370.4 82.7L371.2 82.5L372.0 81.9L372.8 81.5L373.6 80.7L374.4 80.4L375.2 79.9L376.0 79.3L376.8 79.6L377.6 78.8L378.4 78.7L379.2 79.0L380.0 78.4L380.8 77.7L381.6 77.7L382.4 77.3L383.2 77.2L384.0 76.6L384.8 76.8L385.6 76.2L386.4 76.5L387.2 76.4L388.0 76.3L388.8 76.5L389.6 75.5L390.4 75.5L391.2 75.4L392.0 75.5L392.8 75.8L393.6 75.5L394.4 75.5L395.2 75.4L396.0 75.6L396.8 75.8L397.6 76.0L398.4 75.8L399.2 76.4L400.0 76.7L400.8 76.9L401.6 76.7L402.4 77.4L403.2 77.6L404.0 77.7L404.8 77.5L405.6 77.7L406.4 78.2L407.2 78.1L408.0 78.2L408.8 78.9L409.6 79.1L410.4 79.3L411.2 79.6L412.0 79.7L412.8 79.4L413.6 80.2L414.4 80.1L415.2 80.4L416.0 80.8L416.8 80.7L417.6 81.1L418.4 80.9L419.2 80.9L420.0 80.9L420.8 81.1L421.6 80.8L422.4 81.2L423.2 81.2L424.0 81.0L424.8 80.5L425.6 80.4L426.4 81.0L427.2 80.4L428.0 80.8L428.8 80.1L429.6 80.2L430.4 79.5L431.2 79.5L432.0 79.4L432.8 79.3L433.6 79.4L434.4 78.9L435.2 78.1L436.0 78.2L436.8 78.0L437.6 77.6L438.4 77.7L439.2 77.8L440.0 77.1L440.8 77.3L441.6 77.3L442.4 76.6L443.2 77.2L444.0 77.1L444.8 76.8L445.6 77.2L446.4 77.0L447.2 77.4L448.0 77.6L448.8 77.5L449.6 78.2L450.4 78.4L451.2 78.7L452.0 78.9L452.8 79.3L453.6 79.4L454.4 80.2L455.2 79.6L456.0 80.1L456.8 79.9L457.6 79.6L458.4 79.9L459.2 79.2L460.0 79.4L460.8 78.7L461.6 78.4L462.4 77.9L463.2 77.7L464.0 77.3L464.8 76.5L465.6 76.2L466.4 76.3L467.2 75.4L468.0 75.6L468.8 74.8L469.6 74.6L470.4 74.1L471.2 74.3L472.0 74.1L472.8 74.5L473.6 75.1L474.4 75.2L475.2 75.4L476.0 75.7L476.8 76.2L477.6 76.4L478.4 76.8L479.2 78.0L480.0 77.9L480.8 77.8L481.6 78.4L482.4 78.7L483.2 78.1L484.0 78.0L484.8 77.4L485.6 76.9L486.4 77.1L487.2 77.0L488.0 75.3L488.8 74.4L489.6 74.4L490.4 73.6L491.2 72.7L492.0 72.2L492.8 71.0L493.6 70.5L494.4 70.1L495.2 69.3L496.0 69.1L496.8 68.6L497.6 68.6L498.4 68.5L499.2 68.1L500.0 68.7L500.8 68.5L501.6 68.9L502.4 69.0L503.2 69.9L504.0 69.9L504.8 70.1L505.6 70.8L506.4 70.9L507.2 70.9L508.0 70.6L508.8 71.3L509.6 71.1L510.4 71.0L511.2 71.1L512.0 70.4L512.8 70.3L513.6 70.1L514.4 69.7L515.2 69.1L516.0 69.3L516.8 69.0L517.6 69.0L518.4 68.5L519.2 68.7L520.0 69.2L520.8 69.4L521.6 69.9L522.4 70.4L523.2 71.0L524.0 71.5L524.8 72.2L525.6 73.0L526.4 73.4L527.2 73.6L528.0 74.3L528.8 74.9L529.6 74.8L530.4 73.9L531.2 74.0L532.0 74.1L532.8 73.6L533.6 73.2L534.4 72.8L535.2 72.4L536.0 71.8L536.8 71.9L537.6 71.0L538.4 71.0L539.2 71.2L540.0 71.0L540.8 70.7L541.6 70.9L542.4 71.0L543.2 71.3L544.0 71.8L544.8 72.7L545.6 72.8L546.4 73.6L547.2 74.0L548.0 74.5L548.8 74.8L549.6 75.4L550.4 75.5L551.2 75.6L552.0 75.5L552.8 74.9L553.6 75.3L554.4 74.8L555.2 74.0L556.0 73.5L556.8 73.0L557.6 72.0L558.4 71.8L559.2 71.2L560.0 70.7L560.8 70.3L561.6 69.3L562.4 69.7L563.2 69.6L564.0 70.3L564.8 70.9L565.6 71.6L566.4 72.2L567.2 73.7L568.0 73.8L568.8 74.3L569.6 75.2L570.4 74.8L571.2 75.6L572.0 75.0L572.8 74.6L573.6 73.9L574.4 73.0L575.2 71.7L576.0 71.1L576.8 70.6L577.6 69.7L578.4 69.2L579.2 68.5L580.0 68.2L580.8 68.4L581.6 68.6L582.4 68.6L583.2 68.7L584.0 68.9L584.8 70.2L585.6 69.9L586.4 70.5L587.2 71.0L588.0 71.9L588.8 72.0L589.6 72.8L590.4 73.2L591.2 73.2L592.0 73.8L592.8 73.7L593.6 74.1L594.4 74.3L595.2 73.9L596.0 73.4L596.8 73.2L597.6 72.8L598.4 72.4L599.2 71.2" stroke="#ff0000" stroke-width="1.5"/>
</g>
<path d="M770.2 23.15H1282.2M770.2 58.21H1282.2M770.2 93.27H1282.2M770.2 128.33H1282.2M770.2 163.39H1282.2M770.2 198.45H1282.2M770.2 233.51H1282.2M770.2 268.57H1282.2" stroke="#d9d9d9" stroke-width="1" fill="none"/>
<path d="M770.2 303.6H1282.2M770.30 303.6V309.6M834.26 303.6V309.6M898.22 303.6V309.6M962.19 303.6V309.6M1026.15 303.6V309.6M1090.11 303.6V309.6M1154.07 303.6V309.6M1218.04 303.6V309.6M1282.00 303.6V309.6" stroke="#d9d9d9" stroke-width="1" fill="none"/>
<text x="753.2" y="29.6" text-anchor="end">0.08</text>
<text x="753.2" y="64.7" text-anchor="end">0.07</text>
<text x="753.2" y="99.7" text-anchor="end">0.06</text>
<text x="753.2" y="134.8" text-anchor="end">0.05</text>
<text x="753.2" y="169.8" text-anchor="end">0.04</text>
<text x="753.2" y="204.9" text-anchor="end">0.03</text>
<text x="753.2" y="240.0" text-anchor="end">0.02</text>
<text x="753.2" y="275.0" text-anchor="end">0.01</text>
<text x="753.2" y="310.1" text-anchor="end">0.00</text>
<text x="770.3" y="334" text-anchor="middle">0</text>
<text x="834.3" y="334" text-anchor="middle">250</text>
<text x="898.2" y="334" text-anchor="middle">500</text>
<text x="962.2" y="334" text-anchor="middle">750</text>
<text x="1026.1" y="334" text-anchor="middle">1000</text>
<text x="1090.1" y="334" text-anchor="middle">1250</text>
<text x="1154.1" y="334" text-anchor="middle">1500</text>
<text x="1218.0" y="334" text-anchor="middle">1750</text>
<text x="1282.0" y="334" text-anchor="middle">2000</text>
<text x="1026.2" y="360.8" text-anchor="middle">Epoch</text>
<text transform="translate(710.2,163.4) rotate(-90)" text-anchor="middle">Cross entropy loss</text>
<line x1="915.5" y1="389.3" x2="943.9" y2="389.3" stroke="#0000ff" stroke-width="1.5"/>
<text x="946.1" y="395">Baseline</text>
<line x1="1028" y1="389.1" x2="1056.1" y2="389.1" stroke="#ff0000" stroke-width="1.5"/>
<text x="1058.7" y="394.8">Proposed</text>
<text x="998.2" y="436.9" text-anchor="middle" font-size="23">(<tspan font-weight="bold">b</tspan>)</text>
<g clip-path="url(#cR)" fill="none" stroke-linejoin="round" stroke-linecap="round">
<path d="M802.0 3.4L802.5 0.7L803.0 3.3L803.5 6.3L804.0 10.8L804.5 2.9L805.0 11.0L805.5 18.0L806.0 22.3L806.5 25.1L807.0 28.9L807.5 16.9L808.0 24.4L808.5 28.4L809.0 35.3L809.5 35.1L810.0 50.2L810.5 37.4L811.0 39.9L811.5 33.6L812.0 55.5L812.5 46.5L813.0 46.8L813.5 45.1L814.0 50.8L814.5 49.6L815.0 60.1L815.5 49.6L816.0 53.0L816.5 53.7L817.0 61.5L817.5 61.2L818.0 66.1L818.5 64.8L819.0 66.1L819.5 64.3L820.0 70.3L820.5 69.0L821.0 69.3L821.5 59.5L822.0 67.0L822.5 66.8L823.0 61.6L823.5 80.0L824.0 81.8L824.5 80.7L825.0 78.9L825.5 84.9L826.0 68.6L826.5 85.7L827.0 68.8L827.5 81.7L828.0 82.5L828.5 85.6L829.0 87.4L829.5 88.8L830.0 82.3L830.5 83.4L831.0 83.6L831.5 89.6L832.0 88.1L832.5 82.4L833.0 96.6L833.5 86.5L834.0 90.6L834.5 90.0L835.0 90.6L835.5 98.0L836.0 92.0L836.5 88.7L837.0 93.2L837.5 91.9L838.0 89.9L838.5 103.1L839.0 105.1L839.5 92.7L840.0 108.9L840.5 111.1L841.0 95.9L841.5 106.0L842.0 103.6L842.5 110.2L843.0 92.6L843.5 111.3L844.0 107.5L844.5 112.7L845.0 115.7L845.5 100.8L846.0 113.0L846.5 114.2L847.0 118.0L847.5 121.4L848.0 120.4L848.5 113.9L849.0 121.8L849.5 115.6L850.0 123.6L850.5 119.8L851.0 120.5L851.5 122.6L852.0 115.1L852.5 121.7L853.0 118.3L853.5 128.7L854.0 130.9L854.5 118.8L855.0 115.7L855.5 127.7L856.0 124.5L856.5 123.4L857.0 138.7L857.5 126.8L858.0 124.5L858.5 128.4L859.0 131.5L859.5 137.9L860.0 132.6L860.5 126.0L861.0 130.0L861.5 141.0L862.0 125.4L862.5 133.5L863.0 139.5L863.5 136.0L864.0 134.3L864.5 131.9L865.0 137.1L865.5 139.3L866.0 138.5L866.5 142.5L867.0 139.4L867.5 144.8L868.0 140.2L868.5 144.1L869.0 139.3L869.5 148.8L870.0 147.2L870.5 145.3L871.0 138.6L871.5 144.3L872.0 131.3L872.5 143.1L873.0 145.9L873.5 142.1L874.0 147.2L874.5 150.0L875.0 155.5L875.5 148.6L876.0 142.7L876.5 140.2L877.0 150.2L877.5 155.5L878.0 157.2L878.5 153.8L879.0 151.5L879.5 152.2L880.0 155.4L880.5 157.2L881.0 160.1L881.5 158.9L882.0 167.4L882.5 160.6L883.0 162.7L883.5 165.6L884.0 165.8L884.5 160.0L885.0 156.7L885.5 158.6L886.0 165.8L886.5 167.2L887.0 166.7L887.5 169.0L888.0 171.5L888.5 163.9L889.0 177.5L889.5 178.4L890.0 171.4L890.5 168.2L891.0 170.3L891.5 164.3L892.0 170.3L892.5 167.5L893.0 170.7L893.5 170.3L894.0 179.9L894.5 169.0L895.0 173.9L895.5 171.6L896.0 179.5L896.5 177.9L897.0 168.4L897.5 170.8L898.0 176.0L898.5 172.9L899.0 177.3L899.5 176.3L900.0 172.3L900.5 175.5L901.0 178.8L901.5 177.1L902.0 178.2L902.5 179.4L903.0 177.9L903.5 183.7L904.0 174.2L904.5 181.0L905.0 177.6L905.5 181.4L906.0 183.3L906.5 182.8L907.0 183.2L907.5 183.8L908.0 183.2L908.5 180.7L909.0 184.5L909.5 185.6L910.0 185.5L910.5 183.5L911.0 183.7L911.5 175.6L912.0 180.1L912.5 182.6L913.0 187.2L913.5 188.1L914.0 184.4L914.5 179.9L915.0 185.9L915.5 187.8L916.0 187.1L916.5 181.9L917.0 180.7L917.5 181.4L918.0 180.9L918.5 188.6L919.0 186.2L919.5 193.0L920.0 191.3L920.5 189.2L921.0 183.2L921.5 188.3L922.0 187.8L922.5 181.3L923.0 182.1L923.5 184.4L924.0 191.9L924.5 186.3L925.0 183.1L925.5 188.7L926.0 190.9L926.5 184.7L927.0 196.2L927.5 187.0L928.0 193.8L928.5 192.8L929.0 188.2L929.5 190.7L930.0 191.6L930.5 190.6L931.0 194.9L931.5 192.9L932.0 187.0L932.5 193.7L933.0 189.7L933.5 193.2L934.0 195.2L934.5 194.3L935.0 198.5L935.5 194.9L936.0 193.6L936.5 201.3L937.0 198.3L937.5 195.5L938.0 196.1L938.5 194.8L939.0 196.6L939.5 193.2L940.0 202.7L940.5 201.0L941.0 189.2L941.5 193.7L942.0 196.9L942.5 195.0L943.0 190.0L943.5 199.8L944.0 193.4L944.5 199.9L945.0 199.2L945.5 203.0L946.0 194.8L946.5 204.2L947.0 193.8L947.5 203.2L948.0 201.8L948.5 199.8L949.0 194.7L949.5 204.0L950.0 201.3L950.5 192.9L951.0 189.8L951.5 196.5L952.0 195.9L952.5 201.3L953.0 199.5L953.5 200.2L954.0 197.4L954.5 202.5L955.0 197.4L955.5 194.3L956.0 191.4L956.5 201.4L957.0 197.7L957.5 194.0L958.0 196.9L958.5 198.7L959.0 202.5L959.5 193.0L960.0 199.0L960.5 203.0L961.0 202.2L961.5 203.5L962.0 207.5L962.5 198.1L963.0 199.1L963.5 204.8L964.0 206.8L964.5 202.6L965.0 200.5L965.5 197.8L966.0 203.9L966.5 203.2L967.0 198.5L967.5 200.5L968.0 199.1L968.5 204.4L969.0 202.1L969.5 206.9L970.0 207.4L970.5 204.1L971.0 207.1L971.5 206.7L972.0 208.4L972.5 201.9L973.0 205.8L973.5 210.0L974.0 206.1L974.5 202.7L975.0 205.1L975.5 212.0L976.0 203.2L976.5 202.6L977.0 207.8L977.5 203.7L978.0 199.9L978.5 200.0L979.0 205.4L979.5 203.5L980.0 210.5L980.5 203.8L981.0 201.4L981.5 203.6L982.0 202.2L982.5 210.3L983.0 204.0L983.5 211.8L984.0 208.8L984.5 213.8L985.0 207.0L985.5 210.3L986.0 200.9L986.5 206.4L987.0 205.7L987.5 212.1L988.0 208.1L988.5 211.0L989.0 206.6L989.5 205.0L990.0 209.1L990.5 213.8L991.0 209.6L991.5 215.1L992.0 209.2L992.5 209.3L993.0 209.5L993.5 210.0L994.0 208.8L994.5 210.4L995.0 208.8L995.5 208.3L996.0 216.6L996.5 214.7L997.0 211.1L997.5 210.3L998.0 207.4L998.5 214.4L999.0 210.5L999.5 219.0L1000.0 207.4L1000.5 214.2L1001.0 217.1L1001.5 211.6L1002.0 219.9L1002.5 216.8L1003.0 216.8L1003.5 211.1L1004.0 217.2L1004.5 217.2L1005.0 214.5L1005.5 219.9L1006.0 215.4L1006.5 207.2L1007.0 215.6L1007.5 220.2L1008.0 212.8L1008.5 217.2L1009.0 212.9L1009.5 215.0L1010.0 206.5L1010.5 209.5L1011.0 214.4L1011.5 213.6L1012.0 209.6L1012.5 217.8L1013.0 216.8L1013.5 213.0L1014.0 209.3L1014.5 217.7L1015.0 214.5L1015.5 218.4L1016.0 219.8L1016.5 215.2L1017.0 215.6L1017.5 218.8L1018.0 215.7L1018.5 210.4L1019.0 218.6L1019.5 217.8L1020.0 215.1L1020.5 218.7L1021.0 216.0L1021.5 216.0L1022.0 219.9L1022.5 213.3L1023.0 212.7L1023.5 217.4L1024.0 213.9L1024.5 220.8L1025.0 216.0L1025.5 213.1L1026.0 217.4L1026.5 211.9L1027.0 223.2L1027.5 219.0L1028.0 221.4L1028.5 221.1L1029.0 220.2L1029.5 216.5L1030.0 222.3L1030.5 219.0L1031.0 217.8L1031.5 214.0L1032.0 224.4L1032.5 219.8L1033.0 219.4L1033.5 214.9L1034.0 223.7L1034.5 220.6L1035.0 224.2L1035.5 221.1L1036.0 218.7L1036.5 223.2L1037.0 216.7L1037.5 216.9L1038.0 221.5L1038.5 224.1L1039.0 225.3L1039.5 221.8L1040.0 221.8L1040.5 222.9L1041.0 221.7L1041.5 221.0L1042.0 224.1L1042.5 221.2L1043.0 222.2L1043.5 226.6L1044.0 223.8L1044.5 221.8L1045.0 225.6L1045.5 223.2L1046.0 225.8L1046.5 221.4L1047.0 221.8L1047.5 220.0L1048.0 227.7L1048.5 228.7L1049.0 228.2L1049.5 225.8L1050.0 225.5L1050.5 224.3L1051.0 226.8L1051.5 224.6L1052.0 222.2L1052.5 228.2L1053.0 227.9L1053.5 226.8L1054.0 225.0L1054.5 224.1L1055.0 225.4L1055.5 225.8L1056.0 221.6L1056.5 223.7L1057.0 221.9L1057.5 228.3L1058.0 220.9L1058.5 221.3L1059.0 222.2L1059.5 225.3L1060.0 222.0L1060.5 229.9L1061.0 226.8L1061.5 217.5L1062.0 225.2L1062.5 225.6L1063.0 220.8L1063.5 224.2L1064.0 224.7L1064.5 222.6L1065.0 224.2L1065.5 225.5L1066.0 223.1L1066.5 224.5L1067.0 221.2L1067.5 226.7L1068.0 223.1L1068.5 228.7L1069.0 231.3L1069.5 230.3L1070.0 224.2L1070.5 227.0L1071.0 225.2L1071.5 227.5L1072.0 223.9L1072.5 223.5L1073.0 226.5L1073.5 224.5L1074.0 230.6L1074.5 229.4L1075.0 228.4L1075.5 227.2L1076.0 227.3L1076.5 230.8L1077.0 228.4L1077.5 228.4L1078.0 233.9L1078.5 229.1L1079.0 228.0L1079.5 228.2L1080.0 232.7L1080.5 227.7L1081.0 227.8L1081.5 232.4L1082.0 232.7L1082.5 233.5L1083.0 227.1L1083.5 230.9L1084.0 228.1L1084.5 231.0L1085.0 225.3L1085.5 229.4L1086.0 233.1L1086.5 230.7L1087.0 223.3L1087.5 233.1L1088.0 231.3L1088.5 229.6L1089.0 230.4L1089.5 229.6L1090.0 233.9L1090.5 230.5L1091.0 226.1L1091.5 228.3L1092.0 235.5L1092.5 234.1L1093.0 233.2L1093.5 228.7L1094.0 232.6L1094.5 234.0L1095.0 231.4L1095.5 233.3L1096.0 234.5L1096.5 234.3L1097.0 232.7L1097.5 232.7L1098.0 228.0L1098.5 230.7L1099.0 233.9L1099.5 236.4L1100.0 232.2L1100.5 234.8L1101.0 231.8L1101.5 229.0L1102.0 233.0L1102.5 233.2L1103.0 229.4L1103.5 229.5L1104.0 232.1L1104.5 230.6L1105.0 233.5L1105.5 228.2L1106.0 234.4L1106.5 230.4L1107.0 233.2L1107.5 227.8L1108.0 234.9L1108.5 232.9L1109.0 238.3L1109.5 227.7L1110.0 227.3L1110.5 234.5L1111.0 235.0L1111.5 227.5L1112.0 234.1L1112.5 235.3L1113.0 236.6L1113.5 233.1L1114.0 228.4L1114.5 227.3L1115.0 238.7L1115.5 234.0L1116.0 235.7L1116.5 232.0L1117.0 232.3L1117.5 232.4L1118.0 230.4L1118.5 232.3L1119.0 230.0L1119.5 232.0L1120.0 236.3L1120.5 233.3L1121.0 231.4L1121.5 238.2L1122.0 237.1L1122.5 233.6L1123.0 228.7L1123.5 237.3L1124.0 237.4L1124.5 232.2L1125.0 237.9L1125.5 231.7L1126.0 233.4L1126.5 233.0L1127.0 234.9L1127.5 234.1L1128.0 238.6L1128.5 233.8L1129.0 236.1L1129.5 235.1L1130.0 235.8L1130.5 233.0L1131.0 235.3L1131.5 239.3L1132.0 237.9L1132.5 232.5L1133.0 234.7L1133.5 233.2L1134.0 234.1L1134.5 234.4L1135.0 232.9L1135.5 237.6L1136.0 238.9L1136.5 236.9L1137.0 235.3L1137.5 237.1L1138.0 234.6L1138.5 239.7L1139.0 243.3L1139.5 229.6L1140.0 238.1L1140.5 237.3L1141.0 237.7L1141.5 236.5L1142.0 233.2L1142.5 237.2L1143.0 236.4L1143.5 237.2L1144.0 237.5L1144.5 236.3L1145.0 244.0L1145.5 234.4L1146.0 236.8L1146.5 234.5L1147.0 237.6L1147.5 242.3L1148.0 238.0L1148.5 235.9L1149.0 234.6L1149.5 239.8L1150.0 236.4L1150.5 240.1L1151.0 236.5L1151.5 237.0L1152.0 238.4L1152.5 234.1L1153.0 241.9L1153.5 235.5L1154.0 239.1L1154.5 239.9L1155.0 245.1L1155.5 240.1L1156.0 241.1L1156.5 237.5L1157.0 238.5L1157.5 238.9L1158.0 241.8L1158.5 236.3L1159.0 240.1L1159.5 246.7L1160.0 236.4L1160.5 234.1L1161.0 237.7L1161.5 238.7L1162.0 243.6L1162.5 240.5L1163.0 242.3L1163.5 237.3L1164.0 239.1L1164.5 240.1L1165.0 237.0L1165.5 240.1L1166.0 238.6L1166.5 240.1L1167.0 235.7L1167.5 234.0L1168.0 243.3L1168.5 239.8L1169.0 239.5L1169.5 246.8L1170.0 242.7L1170.5 241.3L1171.0 238.5L1171.5 241.4L1172.0 241.1L1172.5 239.9L1173.0 244.6L1173.5 242.9L1174.0 242.5L1174.5 239.0L1175.0 239.4L1175.5 244.4L1176.0 242.2L1176.5 240.2L1177.0 242.6L1177.5 242.0L1178.0 240.9L1178.5 241.6L1179.0 244.2L1179.5 243.2L1180.0 240.1L1180.5 240.4L1181.0 243.2L1181.5 239.7L1182.0 242.8L1182.5 242.2L1183.0 239.0L1183.5 236.1L1184.0 240.1L1184.5 242.2L1185.0 242.1L1185.5 245.4L1186.0 241.9L1186.5 241.6L1187.0 242.6L1187.5 240.4L1188.0 246.0L1188.5 239.7L1189.0 238.9L1189.5 239.7L1190.0 244.2L1190.5 239.4L1191.0 238.9L1191.5 242.5L1192.0 244.0L1192.5 239.8L1193.0 242.8L1193.5 239.2L1194.0 244.7L1194.5 238.2L1195.0 240.4L1195.5 240.1L1196.0 238.8L1196.5 241.1L1197.0 243.2L1197.5 239.3L1198.0 246.6L1198.5 242.3L1199.0 242.7L1199.5 239.8L1200.0 241.8L1200.5 244.4L1201.0 239.5L1201.5 240.5L1202.0 240.2L1202.5 239.0L1203.0 244.3L1203.5 240.6L1204.0 247.1L1204.5 239.6L1205.0 242.1L1205.5 243.2L1206.0 240.5L1206.5 237.6L1207.0 241.6L1207.5 243.3L1208.0 240.9L1208.5 244.2L1209.0 238.6L1209.5 244.3L1210.0 249.1L1210.5 246.1L1211.0 246.3L1211.5 242.8L1212.0 242.6L1212.5 246.7L1213.0 242.9L1213.5 245.5L1214.0 241.3L1214.5 244.9L1215.0 244.4L1215.5 238.2L1216.0 243.7L1216.5 245.5L1217.0 245.4L1217.5 245.0L1218.0 247.4L1218.5 243.9L1219.0 242.1L1219.5 246.5L1220.0 249.7L1220.5 243.2L1221.0 248.1L1221.5 243.6L1222.0 240.2L1222.5 241.7L1223.0 241.8L1223.5 247.1L1224.0 244.3L1224.5 242.6L1225.0 244.4L1225.5 247.7L1226.0 243.8L1226.5 242.1L1227.0 244.9L1227.5 241.7L1228.0 245.2L1228.5 246.5L1229.0 244.3L1229.5 242.7L1230.0 244.1L1230.5 240.1L1231.0 247.9L1231.5 249.9L1232.0 243.8L1232.5 238.3L1233.0 241.9L1233.5 239.9L1234.0 238.7L1234.5 243.3L1235.0 243.2L1235.5 241.9L1236.0 246.5L1236.5 243.7L1237.0 241.0L1237.5 244.6L1238.0 240.2L1238.5 242.6L1239.0 241.3L1239.5 244.3L1240.0 242.8L1240.5 242.0L1241.0 244.2L1241.5 244.8L1242.0 244.2L1242.5 246.6L1243.0 240.9L1243.5 244.8L1244.0 248.2L1244.5 243.9L1245.0 238.2L1245.5 246.6L1246.0 243.7L1246.5 246.0L1247.0 245.2L1247.5 246.2L1248.0 247.9L1248.5 245.2L1249.0 247.0L1249.5 241.7L1250.0 242.9L1250.5 245.0L1251.0 249.6L1251.5 243.5L1252.0 244.9L1252.5 247.7L1253.0 244.7L1253.5 242.8L1254.0 241.3L1254.5 248.5L1255.0 243.7L1255.5 247.6L1256.0 248.1L1256.5 244.4L1257.0 248.2L1257.5 241.6L1258.0 246.9L1258.5 244.6L1259.0 247.9L1259.5 247.9L1260.0 247.9L1260.5 249.1L1261.0 245.9L1261.5 243.9L1262.0 244.4L1262.5 250.2L1263.0 245.0L1263.5 246.8L1264.0 248.7L1264.5 247.4L1265.0 245.3L1265.5 242.5L1266.0 250.3L1266.5 246.4L1267.0 243.8L1267.5 246.3L1268.0 248.1L1268.5 243.0L1269.0 248.4L1269.5 248.1L1270.0 249.3L1270.5 248.2L1271.0 245.6L1271.5 244.0L1272.0 247.7L1272.5 246.9L1273.0 252.2L1273.5 247.5L1274.0 249.3L1274.5 248.4L1275.0 243.8L1275.5 250.2L1276.0 247.2L1276.5 244.6L1277.0 249.4L1277.5 251.5L1278.0 248.0L1278.5 247.6L1279.0 246.7L1279.5 247.3L1280.0 251.2L1280.5 248.6L1281.0 249.4L1281.5 249.8" stroke="#0000ff" stroke-opacity="0.26" stroke-width="3"/>
<path d="M796.0 6.7L796.5 1.8L797.0 18.6L797.5 15.7L798.0 13.2L798.5 12.0L799.0 15.6L799.5 18.1L800.0 23.6L800.5 19.3L801.0 29.1L801.5 29.2L802.0 44.4L802.5 43.3L803.0 51.1L803.5 57.9L804.0 51.7L804.5 62.4L805.0 57.5L805.5 61.7L806.0 57.0L806.5 64.6L807.0 73.5L807.5 71.7L808.0 70.3L808.5 74.5L809.0 73.6L809.5 76.4L810.0 75.5L810.5 89.1L811.0 91.4L811.5 88.6L812.0 85.8L812.5 92.7L813.0 104.3L813.5 92.6L814.0 98.0L814.5 100.2L815.0 107.3L815.5 100.9L816.0 108.9L816.5 106.5L817.0 110.1L817.5 108.5L818.0 116.8L818.5 114.5L819.0 115.6L819.5 123.5L820.0 122.0L820.5 130.9L821.0 125.0L821.5 125.0L822.0 126.5L822.5 137.3L823.0 133.1L823.5 128.8L824.0 132.2L824.5 130.5L825.0 136.0L825.5 133.2L826.0 134.3L826.5 139.2L827.0 143.7L827.5 143.3L828.0 144.3L828.5 143.3L829.0 136.3L829.5 145.2L830.0 146.4L830.5 150.1L831.0 155.3L831.5 153.2L832.0 146.1L832.5 152.9L833.0 153.0L833.5 157.0L834.0 155.4L834.5 150.3L835.0 154.3L835.5 156.9L836.0 152.3L836.5 159.0L837.0 159.2L837.5 164.1L838.0 161.1L838.5 160.2L839.0 162.4L839.5 163.5L840.0 167.1L840.5 161.9L841.0 158.7L841.5 174.6L842.0 169.3L842.5 167.9L843.0 175.8L843.5 165.9L844.0 167.8L844.5 169.6L845.0 173.1L845.5 171.1L846.0 175.5L846.5 173.1L847.0 178.7L847.5 177.1L848.0 172.0L848.5 177.7L849.0 175.6L849.5 179.5L850.0 180.9L850.5 188.0L851.0 181.9L851.5 178.8L852.0 184.1L852.5 181.2L853.0 190.0L853.5 187.4L854.0 190.3L854.5 185.4L855.0 184.1L855.5 188.1L856.0 184.1L856.5 185.6L857.0 186.6L857.5 188.7L858.0 185.4L858.5 184.4L859.0 194.2L859.5 189.4L860.0 190.9L860.5 193.5L861.0 193.6L861.5 191.4L862.0 192.6L862.5 198.6L863.0 198.4L863.5 197.7L864.0 200.8L864.5 192.5L865.0 198.3L865.5 198.0L866.0 194.6L866.5 201.0L867.0 202.4L867.5 202.2L868.0 197.8L868.5 202.4L869.0 204.2L869.5 203.8L870.0 205.8L870.5 207.0L871.0 210.0L871.5 207.8L872.0 214.2L872.5 209.2L873.0 210.0L873.5 211.9L874.0 210.5L874.5 210.6L875.0 214.8L875.5 207.6L876.0 209.0L876.5 218.4L877.0 215.9L877.5 215.9L878.0 215.9L878.5 216.4L879.0 214.1L879.5 216.1L880.0 214.9L880.5 220.2L881.0 219.5L881.5 219.1L882.0 219.9L882.5 219.2L883.0 217.4L883.5 224.0L884.0 222.2L884.5 220.8L885.0 222.9L885.5 224.7L886.0 224.9L886.5 224.2L887.0 225.0L887.5 223.1L888.0 226.9L888.5 226.4L889.0 226.7L889.5 222.4L890.0 226.8L890.5 227.3L891.0 227.9L891.5 221.2L892.0 223.1L892.5 227.9L893.0 225.7L893.5 228.8L894.0 228.2L894.5 230.5L895.0 227.9L895.5 227.3L896.0 230.9L896.5 229.6L897.0 228.1L897.5 226.8L898.0 236.9L898.5 230.8L899.0 231.4L899.5 228.3L900.0 230.5L900.5 232.5L901.0 233.8L901.5 235.0L902.0 232.3L902.5 235.0L903.0 236.6L903.5 233.7L904.0 234.9L904.5 231.8L905.0 234.0L905.5 233.2L906.0 237.4L906.5 236.0L907.0 239.7L907.5 237.3L908.0 238.7L908.5 238.4L909.0 238.1L909.5 235.9L910.0 241.3L910.5 238.2L911.0 235.1L911.5 237.7L912.0 236.9L912.5 241.4L913.0 241.3L913.5 242.4L914.0 243.8L914.5 238.7L915.0 236.6L915.5 238.5L916.0 241.2L916.5 235.5L917.0 239.6L917.5 242.5L918.0 239.5L918.5 241.0L919.0 239.7L919.5 244.8L920.0 245.3L920.5 240.0L921.0 240.5L921.5 242.5L922.0 243.7L922.5 243.4L923.0 244.0L923.5 244.8L924.0 245.4L924.5 246.8L925.0 243.9L925.5 242.9L926.0 243.8L926.5 248.2L927.0 245.9L927.5 245.8L928.0 247.2L928.5 247.2L929.0 249.4L929.5 243.9L930.0 245.9L930.5 247.1L931.0 247.4L931.5 245.4L932.0 243.4L932.5 246.0L933.0 245.5L933.5 246.7L934.0 249.1L934.5 248.6L935.0 245.5L935.5 246.4L936.0 248.3L936.5 250.1L937.0 248.2L937.5 248.9L938.0 246.0L938.5 248.0L939.0 247.6L939.5 249.5L940.0 248.9L940.5 248.0L941.0 247.8L941.5 250.2L942.0 248.8L942.5 252.1L943.0 250.5L943.5 249.9L944.0 252.1L944.5 248.6L945.0 252.4L945.5 249.7L946.0 252.3L946.5 250.0L947.0 249.7L947.5 248.3L948.0 251.6L948.5 252.5L949.0 249.4L949.5 254.9L950.0 252.0L950.5 250.3L951.0 255.6L951.5 251.7L952.0 255.0L952.5 247.9L953.0 256.4L953.5 253.2L954.0 253.0L954.5 253.6L955.0 251.3L955.5 254.8L956.0 254.1L956.5 254.0L957.0 252.7L957.5 251.8L958.0 254.4L958.5 255.3L959.0 254.2L959.5 253.8L960.0 253.3L960.5 255.5L961.0 256.8L961.5 254.2L962.0 253.1L962.5 258.7L963.0 252.2L963.5 255.2L964.0 254.7L964.5 257.1L965.0 254.8L965.5 252.4L966.0 253.3L966.5 255.4L967.0 255.3L967.5 254.3L968.0 254.5L968.5 253.0L969.0 253.2L969.5 254.6L970.0 254.6L970.5 255.5L971.0 253.9L971.5 258.4L972.0 253.1L972.5 257.4L973.0 256.9L973.5 258.7L974.0 258.4L974.5 254.1L975.0 256.9L975.5 257.6L976.0 257.9L976.5 257.3L977.0 255.6L977.5 258.7L978.0 256.5L978.5 255.9L979.0 257.1L979.5 256.1L980.0 255.8L980.5 257.1L981.0 261.2L981.5 257.6L982.0 257.2L982.5 256.4L983.0 257.8L983.5 255.4L984.0 258.1L984.5 257.8L985.0 257.6L985.5 258.3L986.0 257.2L986.5 258.7L987.0 258.5L987.5 258.6L988.0 257.8L988.5 259.2L989.0 257.6L989.5 260.0L990.0 257.8L990.5 260.1L991.0 258.5L991.5 258.1L992.0 256.6L992.5 259.2L993.0 258.9L993.5 258.4L994.0 259.0L994.5 258.7L995.0 257.1L995.5 256.7L996.0 259.6L996.5 258.9L997.0 261.0L997.5 261.9L998.0 260.0L998.5 259.8L999.0 259.7L999.5 259.0L1000.0 257.9L1000.5 254.8L1001.0 260.1L1001.5 259.9L1002.0 259.1L1002.5 259.2L1003.0 260.6L1003.5 260.5L1004.0 259.4L1004.5 258.8L1005.0 260.1L1005.5 260.4L1006.0 262.7L1006.5 257.9L1007.0 260.1L1007.5 258.0L1008.0 258.7L1008.5 263.0L1009.0 258.8L1009.5 259.3L1010.0 258.6L1010.5 260.9L1011.0 259.0L1011.5 257.1L1012.0 260.0L1012.5 261.1L1013.0 259.9L1013.5 260.2L1014.0 259.0L1014.5 258.7L1015.0 260.3L1015.5 258.6L1016.0 259.8L1016.5 259.1L1017.0 260.3L1017.5 262.0L1018.0 260.9L1018.5 262.8L1019.0 261.7L1019.5 261.1L1020.0 260.1L1020.5 261.7L1021.0 259.9L1021.5 263.0L1022.0 259.9L1022.5 260.0L1023.0 260.9L1023.5 259.8L1024.0 262.6L1024.5 261.4L1025.0 262.0L1025.5 263.7L1026.0 259.6L1026.5 262.7L1027.0 263.7L1027.5 264.8L1028.0 263.6L1028.5 262.6L1029.0 265.1L1029.5 265.2L1030.0 267.3L1030.5 267.3L1031.0 264.0L1031.5 266.4L1032.0 264.8L1032.5 263.2L1033.0 265.8L1033.5 266.8L1034.0 261.6L1034.5 267.1L1035.0 264.1L1035.5 267.7L1036.0 265.8L1036.5 265.8L1037.0 267.7L1037.5 265.3L1038.0 268.8L1038.5 264.5L1039.0 265.1L1039.5 264.5L1040.0 266.9L1040.5 266.1L1041.0 267.4L1041.5 267.9L1042.0 267.5L1042.5 268.0L1043.0 268.1L1043.5 266.5L1044.0 265.6L1044.5 265.3L1045.0 267.8L1045.5 266.1L1046.0 265.5L1046.5 265.7L1047.0 266.7L1047.5 267.4L1048.0 266.7L1048.5 265.7L1049.0 267.9L1049.5 264.1L1050.0 266.8L1050.5 268.8L1051.0 267.7L1051.5 269.1L1052.0 267.5L1052.5 268.3L1053.0 267.5L1053.5 266.9L1054.0 268.1L1054.5 268.9L1055.0 264.8L1055.5 266.4L1056.0 264.6L1056.5 266.3L1057.0 265.8L1057.5 267.0L1058.0 267.2L1058.5 269.0L1059.0 269.4L1059.5 266.6L1060.0 267.0L1060.5 268.6L1061.0 266.8L1061.5 267.2L1062.0 265.2L1062.5 268.8L1063.0 268.2L1063.5 266.5L1064.0 266.0L1064.5 266.4L1065.0 268.6L1065.5 267.3L1066.0 266.3L1066.5 267.6L1067.0 269.3L1067.5 270.0L1068.0 270.1L1068.5 268.5L1069.0 268.8L1069.5 268.9L1070.0 269.5L1070.5 269.5L1071.0 267.4L1071.5 267.8L1072.0 268.3L1072.5 269.9L1073.0 268.3L1073.5 268.0L1074.0 270.6L1074.5 271.2L1075.0 268.0L1075.5 269.2L1076.0 271.0L1076.5 269.0L1077.0 270.8L1077.5 267.7L1078.0 269.4L1078.5 270.7L1079.0 271.9L1079.5 271.2L1080.0 267.7L1080.5 267.9L1081.0 268.9L1081.5 271.2L1082.0 271.2L1082.5 271.7L1083.0 271.2L1083.5 269.6L1084.0 269.9L1084.5 269.3L1085.0 271.7L1085.5 268.9L1086.0 270.7L1086.5 271.1L1087.0 272.4L1087.5 269.8L1088.0 271.4L1088.5 269.6L1089.0 272.4L1089.5 270.6L1090.0 270.7L1090.5 269.9L1091.0 270.4L1091.5 270.4L1092.0 270.5L1092.5 273.0L1093.0 270.1L1093.5 271.8L1094.0 272.7L1094.5 270.1L1095.0 268.8L1095.5 272.4L1096.0 269.6L1096.5 270.8L1097.0 271.8L1097.5 272.3L1098.0 271.6L1098.5 271.1L1099.0 273.4L1099.5 272.4L1100.0 274.7L1100.5 271.0L1101.0 272.1L1101.5 272.3L1102.0 273.1L1102.5 272.7L1103.0 272.5L1103.5 275.1L1104.0 272.3L1104.5 273.2L1105.0 272.9L1105.5 271.9L1106.0 273.7L1106.5 270.3L1107.0 274.3L1107.5 270.8L1108.0 272.5L1108.5 273.0L1109.0 272.3L1109.5 272.3L1110.0 274.6L1110.5 276.2L1111.0 274.5L1111.5 273.4L1112.0 272.4L1112.5 272.2L1113.0 274.8L1113.5 274.5L1114.0 275.1L1114.5 274.7L1115.0 275.1L1115.5 272.7L1116.0 272.5L1116.5 272.2L1117.0 273.5L1117.5 273.4L1118.0 273.8L1118.5 272.1L1119.0 273.9L1119.5 274.8L1120.0 273.9L1120.5 270.3L1121.0 273.8L1121.5 273.4L1122.0 275.1L1122.5 273.7L1123.0 274.8L1123.5 273.5L1124.0 274.5L1124.5 275.3L1125.0 273.8L1125.5 274.6L1126.0 274.4L1126.5 275.0L1127.0 274.1L1127.5 274.9L1128.0 272.0L1128.5 274.1L1129.0 275.5L1129.5 275.3L1130.0 273.2L1130.5 273.5L1131.0 275.1L1131.5 275.0L1132.0 275.2L1132.5 274.7L1133.0 274.8L1133.5 276.1L1134.0 273.6L1134.5 273.1L1135.0 276.1L1135.5 273.9L1136.0 275.8L1136.5 274.1L1137.0 273.6L1137.5 277.0L1138.0 275.0L1138.5 273.4L1139.0 274.9L1139.5 275.0L1140.0 275.0L1140.5 275.6L1141.0 273.9L1141.5 275.1L1142.0 276.0L1142.5 276.3L1143.0 275.7L1143.5 274.6L1144.0 273.2L1144.5 277.5L1145.0 274.3L1145.5 275.2L1146.0 275.8L1146.5 276.4L1147.0 275.9L1147.5 274.9L1148.0 275.9L1148.5 278.6L1149.0 279.2L1149.5 275.8L1150.0 276.9L1150.5 274.0L1151.0 276.5L1151.5 277.1L1152.0 275.9L1152.5 278.6L1153.0 277.4L1153.5 277.1L1154.0 273.1L1154.5 275.6L1155.0 277.3L1155.5 275.9L1156.0 274.3L1156.5 275.8L1157.0 278.4L1157.5 277.4L1158.0 277.6L1158.5 276.8L1159.0 278.6L1159.5 273.2L1160.0 275.2L1160.5 279.0L1161.0 278.0L1161.5 277.0L1162.0 276.3L1162.5 274.5L1163.0 276.2L1163.5 276.6L1164.0 275.7L1164.5 278.5L1165.0 278.1L1165.5 276.5L1166.0 278.0L1166.5 276.8L1167.0 277.3L1167.5 276.3L1168.0 280.0L1168.5 275.1L1169.0 276.8L1169.5 278.3L1170.0 278.3L1170.5 275.1L1171.0 275.9L1171.5 277.0L1172.0 276.1L1172.5 276.3L1173.0 276.8L1173.5 277.0L1174.0 278.5L1174.5 275.1L1175.0 278.5L1175.5 277.0L1176.0 278.0L1176.5 276.9L1177.0 280.2L1177.5 275.2L1178.0 278.8L1178.5 276.9L1179.0 277.2L1179.5 279.2L1180.0 277.3L1180.5 278.6L1181.0 279.3L1181.5 276.9L1182.0 280.1L1182.5 279.2L1183.0 277.4L1183.5 278.0L1184.0 276.9L1184.5 278.1L1185.0 278.9L1185.5 279.1L1186.0 278.2L1186.5 277.3L1187.0 277.2L1187.5 276.8L1188.0 277.7L1188.5 278.8L1189.0 277.4L1189.5 277.3L1190.0 276.9L1190.5 278.9L1191.0 277.9L1191.5 276.3L1192.0 279.6L1192.5 279.6L1193.0 278.3L1193.5 277.9L1194.0 278.3L1194.5 277.3L1195.0 279.6L1195.5 280.1L1196.0 279.7L1196.5 278.8L1197.0 278.8L1197.5 279.2L1198.0 280.6L1198.5 277.7L1199.0 278.6L1199.5 277.8L1200.0 277.2L1200.5 279.1L1201.0 280.1L1201.5 277.5L1202.0 280.0L1202.5 279.6L1203.0 279.4L1203.5 280.5L1204.0 278.1L1204.5 280.8L1205.0 278.5L1205.5 279.6L1206.0 277.1L1206.5 280.1L1207.0 279.0L1207.5 278.3L1208.0 277.8L1208.5 279.3L1209.0 280.7L1209.5 279.7L1210.0 278.7L1210.5 278.2L1211.0 277.9L1211.5 278.8L1212.0 277.3L1212.5 278.7L1213.0 280.5L1213.5 279.2L1214.0 279.1L1214.5 278.6L1215.0 280.1L1215.5 280.1L1216.0 281.0L1216.5 278.5L1217.0 278.0L1217.5 278.7L1218.0 277.9L1218.5 279.3L1219.0 278.9L1219.5 278.4L1220.0 279.4L1220.5 280.7L1221.0 280.3L1221.5 278.8L1222.0 279.6L1222.5 279.9L1223.0 280.3L1223.5 279.2L1224.0 278.1L1224.5 280.0L1225.0 278.5L1225.5 279.2L1226.0 279.3L1226.5 280.8L1227.0 279.1L1227.5 279.9L1228.0 279.5L1228.5 279.1L1229.0 280.8L1229.5 279.2L1230.0 280.4L1230.5 280.1L1231.0 277.6L1231.5 277.9L1232.0 276.4L1232.5 280.2L1233.0 280.2L1233.5 279.3L1234.0 279.3L1234.5 279.6L1235.0 279.2L1235.5 279.9L1236.0 279.9L1236.5 278.9L1237.0 281.7L1237.5 281.2L1238.0 279.6L1238.5 282.6L1239.0 282.9L1239.5 281.5L1240.0 281.5L1240.5 279.4L1241.0 279.8L1241.5 278.3L1242.0 279.7L1242.5 281.3L1243.0 279.7L1243.5 278.2L1244.0 282.1L1244.5 282.5L1245.0 282.0L1245.5 278.4L1246.0 281.2L1246.5 279.3L1247.0 280.1L1247.5 281.1L1248.0 282.1L1248.5 279.6L1249.0 279.9L1249.5 278.9L1250.0 280.4L1250.5 279.2L1251.0 279.8L1251.5 281.3L1252.0 280.4L1252.5 280.5L1253.0 280.7L1253.5 281.4L1254.0 282.1L1254.5 279.1L1255.0 278.6L1255.5 281.1L1256.0 281.3L1256.5 282.1L1257.0 281.4L1257.5 282.5L1258.0 281.1L1258.5 279.8L1259.0 281.7L1259.5 279.5L1260.0 279.8L1260.5 281.1L1261.0 280.3L1261.5 281.7L1262.0 280.2L1262.5 282.8L1263.0 279.4L1263.5 281.5L1264.0 280.1L1264.5 282.3L1265.0 280.0L1265.5 281.6L1266.0 277.2L1266.5 279.8L1267.0 282.6L1267.5 280.9L1268.0 280.8L1268.5 281.8L1269.0 283.6L1269.5 279.5L1270.0 280.7L1270.5 280.2L1271.0 281.6L1271.5 280.0L1272.0 279.0L1272.5 279.0L1273.0 281.6L1273.5 281.1L1274.0 281.8L1274.5 279.0L1275.0 279.8L1275.5 280.2L1276.0 281.8L1276.5 281.4L1277.0 280.7L1277.5 279.7L1278.0 281.1L1278.5 280.3L1279.0 281.9L1279.5 282.9L1280.0 281.0L1280.5 279.6L1281.0 283.7L1281.5 281.6" stroke="#ff0000" stroke-opacity="0.26" stroke-width="3"/>
<path d="M809.0 -0.1L809.8 7.6L810.6 14.5L811.4 20.5L812.2 25.6L813.0 30.1L813.8 33.7L814.6 37.0L815.4 40.6L816.2 43.9L817.0 46.6L817.8 48.8L818.6 51.6L819.4 54.1L820.2 56.3L821.0 58.7L821.8 60.6L822.6 62.0L823.4 64.7L824.2 66.4L825.0 68.2L825.8 69.9L826.6 71.8L827.4 73.7L828.2 75.8L829.0 77.5L829.8 79.1L830.6 80.9L831.4 82.3L832.2 84.0L833.0 86.3L833.8 87.6L834.6 89.1L835.4 90.8L836.2 91.9L837.0 93.6L837.8 94.1L838.6 95.1L839.4 96.1L840.2 97.0L841.0 97.8L841.8 99.4L842.6 100.8L843.4 102.2L844.2 104.0L845.0 105.5L845.8 107.5L846.6 109.0L847.4 110.6L848.2 112.4L849.0 113.9L849.8 115.4L850.6 116.8L851.4 118.4L852.2 119.0L853.0 120.2L853.8 121.6L854.6 122.9L855.4 123.8L856.2 124.5L857.0 125.4L857.8 126.3L858.6 127.6L859.4 128.0L860.2 128.9L861.0 129.4L861.8 130.6L862.6 131.2L863.4 132.0L864.2 132.8L865.0 133.7L865.8 135.1L866.6 135.5L867.4 136.4L868.2 137.0L869.0 137.7L869.8 138.4L870.6 139.6L871.4 140.6L872.2 141.4L873.0 142.0L873.8 143.3L874.6 144.0L875.4 145.3L876.2 146.0L877.0 147.1L877.8 148.0L878.6 149.2L879.4 150.7L880.2 152.1L881.0 153.5L881.8 154.5L882.6 155.8L883.4 157.5L884.2 158.9L885.0 159.8L885.8 160.9L886.6 162.0L887.4 163.0L888.2 164.1L889.0 164.6L889.8 165.7L890.6 166.7L891.4 167.4L892.2 167.9L893.0 168.5L893.8 169.5L894.6 170.5L895.4 171.0L896.2 171.8L897.0 172.1L897.8 172.8L898.6 173.3L899.4 174.1L900.2 174.6L901.0 175.0L901.8 175.7L902.6 176.4L903.4 177.0L904.2 177.5L905.0 178.4L905.8 178.6L906.6 178.7L907.4 179.6L908.2 179.7L909.0 180.1L909.8 180.9L910.6 181.1L911.4 181.6L912.2 181.9L913.0 182.3L913.8 182.4L914.6 183.2L915.4 183.6L916.2 183.6L917.0 184.1L917.8 184.3L918.6 184.5L919.4 184.8L920.2 184.4L921.0 185.0L921.8 185.0L922.6 185.5L923.4 185.5L924.2 186.3L925.0 186.7L925.8 186.8L926.6 187.5L927.4 188.0L928.2 188.5L929.0 189.2L929.8 189.3L930.6 189.8L931.4 190.9L932.2 191.3L933.0 191.8L933.8 192.3L934.6 192.8L935.4 193.6L936.2 193.8L937.0 194.7L937.8 195.1L938.6 195.3L939.4 195.9L940.2 196.1L941.0 196.2L941.8 196.3L942.6 196.5L943.4 196.6L944.2 196.6L945.0 197.2L945.8 197.5L946.6 197.2L947.4 197.7L948.2 197.8L949.0 198.0L949.8 198.2L950.6 198.4L951.4 198.2L952.2 198.6L953.0 198.5L953.8 198.2L954.6 199.3L955.4 199.0L956.2 199.0L957.0 199.5L957.8 199.5L958.6 199.4L959.4 199.7L960.2 199.9L961.0 200.0L961.8 199.7L962.6 200.4L963.4 200.4L964.2 200.5L965.0 200.9L965.8 201.5L966.6 201.0L967.4 201.5L968.2 201.4L969.0 201.5L969.8 202.0L970.6 202.4L971.4 202.5L972.2 202.7L973.0 203.1L973.8 203.1L974.6 203.1L975.4 203.2L976.2 203.6L977.0 203.9L977.8 204.0L978.6 204.2L979.4 204.4L980.2 204.5L981.0 204.7L981.8 205.0L982.6 205.8L983.4 205.9L984.2 206.2L985.0 206.2L985.8 206.4L986.6 206.9L987.4 206.9L988.2 207.5L989.0 207.7L989.8 208.1L990.6 208.1L991.4 209.0L992.2 209.0L993.0 209.4L993.8 209.5L994.6 209.8L995.4 210.4L996.2 210.2L997.0 211.1L997.8 211.0L998.6 211.6L999.4 211.6L1000.2 212.0L1001.0 212.2L1001.8 212.6L1002.6 212.5L1003.4 213.0L1004.2 213.1L1005.0 213.4L1005.8 213.2L1006.6 213.6L1007.4 213.6L1008.2 213.8L1009.0 214.3L1009.8 214.4L1010.6 214.2L1011.4 214.5L1012.2 214.6L1013.0 214.6L1013.8 214.9L1014.6 214.9L1015.4 215.4L1016.2 215.3L1017.0 215.9L1017.8 215.4L1018.6 216.0L1019.4 216.2L1020.2 216.1L1021.0 216.1L1021.8 216.6L1022.6 216.5L1023.4 217.2L1024.2 217.2L1025.0 217.4L1025.8 217.7L1026.6 218.1L1027.4 218.2L1028.2 218.6L1029.0 218.8L1029.8 218.9L1030.6 219.5L1031.4 219.9L1032.2 220.0L1033.0 220.0L1033.8 220.3L1034.6 220.2L1035.4 220.4L1036.2 220.6L1037.0 220.8L1037.8 221.3L1038.6 221.1L1039.4 221.3L1040.2 221.3L1041.0 221.6L1041.8 221.6L1042.6 222.3L1043.4 222.3L1044.2 222.7L1045.0 223.0L1045.8 223.0L1046.6 223.2L1047.4 223.4L1048.2 223.6L1049.0 223.5L1049.8 224.2L1050.6 224.2L1051.4 224.4L1052.2 224.7L1053.0 224.9L1053.8 225.2L1054.6 225.0L1055.4 224.9L1056.2 225.4L1057.0 225.3L1057.8 225.3L1058.6 225.0L1059.4 224.7L1060.2 225.2L1061.0 225.1L1061.8 224.7L1062.6 224.8L1063.4 224.9L1064.2 225.1L1065.0 224.8L1065.8 224.6L1066.6 224.5L1067.4 224.4L1068.2 224.6L1069.0 224.6L1069.8 225.0L1070.6 225.1L1071.4 225.2L1072.2 225.3L1073.0 225.8L1073.8 226.0L1074.6 226.5L1075.4 226.5L1076.2 227.1L1077.0 227.3L1077.8 228.0L1078.6 227.8L1079.4 228.6L1080.2 229.0L1081.0 228.7L1081.8 229.3L1082.6 229.3L1083.4 229.0L1084.2 229.2L1085.0 229.7L1085.8 229.7L1086.6 229.9L1087.4 230.0L1088.2 230.3L1089.0 230.1L1089.8 230.0L1090.6 230.2L1091.4 230.4L1092.2 230.4L1093.0 230.6L1093.8 230.7L1094.6 230.8L1095.4 230.9L1096.2 230.9L1097.0 231.3L1097.8 231.2L1098.6 231.4L1099.4 231.1L1100.2 231.4L1101.0 231.4L1101.8 231.2L1102.6 232.0L1103.4 231.4L1104.2 231.9L1105.0 232.0L1105.8 232.1L1106.6 231.9L1107.4 231.5L1108.2 232.2L1109.0 232.1L1109.8 232.3L1110.6 232.2L1111.4 232.6L1112.2 232.5L1113.0 232.4L1113.8 233.0L1114.6 232.4L1115.4 232.2L1116.2 232.7L1117.0 232.8L1117.8 232.9L1118.6 232.7L1119.4 232.9L1120.2 232.8L1121.0 233.0L1121.8 233.2L1122.6 233.1L1123.4 233.4L1124.2 233.3L1125.0 233.5L1125.8 233.5L1126.6 233.9L1127.4 233.9L1128.2 233.9L1129.0 234.2L1129.8 234.6L1130.6 234.6L1131.4 234.6L1132.2 234.8L1133.0 235.0L1133.8 235.7L1134.6 235.6L1135.4 236.0L1136.2 236.1L1137.0 236.1L1137.8 236.5L1138.6 236.4L1139.4 236.6L1140.2 236.2L1141.0 236.8L1141.8 236.8L1142.6 236.9L1143.4 237.2L1144.2 237.0L1145.0 237.3L1145.8 237.0L1146.6 237.5L1147.4 237.6L1148.2 238.1L1149.0 237.9L1149.8 238.1L1150.6 237.5L1151.4 238.1L1152.2 238.0L1153.0 238.6L1153.8 238.6L1154.6 238.5L1155.4 238.6L1156.2 238.6L1157.0 238.7L1157.8 238.9L1158.6 238.9L1159.4 238.8L1160.2 238.7L1161.0 239.2L1161.8 238.9L1162.6 238.8L1163.4 239.5L1164.2 239.1L1165.0 239.1L1165.8 238.9L1166.6 239.0L1167.4 239.5L1168.2 239.2L1169.0 239.6L1169.8 239.2L1170.6 239.7L1171.4 239.7L1172.2 239.8L1173.0 239.7L1173.8 240.5L1174.6 240.4L1175.4 240.6L1176.2 241.0L1177.0 240.8L1177.8 241.5L1178.6 241.6L1179.4 241.7L1180.2 241.9L1181.0 241.8L1181.8 242.0L1182.6 242.3L1183.4 242.2L1184.2 242.6L1185.0 242.5L1185.8 242.6L1186.6 241.9L1187.4 242.3L1188.2 241.8L1189.0 241.5L1189.8 241.4L1190.6 241.5L1191.4 241.2L1192.2 241.0L1193.0 241.1L1193.8 241.0L1194.6 241.1L1195.4 241.1L1196.2 241.0L1197.0 241.1L1197.8 240.8L1198.6 241.2L1199.4 240.9L1200.2 241.5L1201.0 241.7L1201.8 241.7L1202.6 241.9L1203.4 242.4L1204.2 242.2L1205.0 242.5L1205.8 243.0L1206.6 242.9L1207.4 243.1L1208.2 243.2L1209.0 243.3L1209.8 243.6L1210.6 243.4L1211.4 243.6L1212.2 243.5L1213.0 243.5L1213.8 243.8L1214.6 243.6L1215.4 243.3L1216.2 243.8L1217.0 244.2L1217.8 243.8L1218.6 244.1L1219.4 244.0L1220.2 243.8L1221.0 244.0L1221.8 243.6L1222.6 244.3L1223.4 244.0L1224.2 244.2L1225.0 244.1L1225.8 243.8L1226.6 244.0L1227.4 244.3L1228.2 244.2L1229.0 243.9L1229.8 243.8L1230.6 243.9L1231.4 243.6L1232.2 243.9L1233.0 243.5L1233.8 243.6L1234.6 243.9L1235.4 243.7L1236.2 243.5L1237.0 243.6L1237.8 243.5L1238.6 243.6L1239.4 243.8L1240.2 243.5L1241.0 243.2L1241.8 243.6L1242.6 243.3L1243.4 243.7L1244.2 243.7L1245.0 243.6L1245.8 243.8L1246.6 243.5L1247.4 243.6L1248.2 244.1L1249.0 244.4L1249.8 244.8L1250.6 244.6L1251.4 244.7L1252.2 245.0L1253.0 245.2L1253.8 245.6L1254.6 245.5L1255.4 246.2L1256.2 246.0L1257.0 246.9L1257.8 246.6L1258.6 246.9L1259.4 246.7L1260.2 247.2L1261.0 246.9L1261.8 247.6L1262.6 247.4L1263.4 247.6L1264.2 247.7L1265.0 247.8L1265.8 248.0L1266.6 248.0L1267.4 248.0L1268.2 247.8L1269.0 247.7L1269.8 248.1L1270.6 248.1L1271.4 248.0L1272.2 248.1L1273.0 248.4L1273.8 248.4L1274.6 248.1L1275.4 248.0L1276.2 247.9L1277.0 248.2L1277.8 248.3L1278.6 248.1L1279.4 248.6L1280.2 248.8L1281.0 248.2" stroke="#0000ff" stroke-width="1.5"/>
<path d="M803.5 -0.6L804.3 7.3L805.1 14.8L805.9 22.3L806.7 29.8L807.5 37.8L808.3 45.3L809.1 52.0L809.9 58.2L810.7 63.3L811.5 68.7L812.3 73.6L813.1 77.9L813.9 82.7L814.7 87.0L815.5 91.2L816.3 94.9L817.1 98.6L817.9 102.1L818.7 105.9L819.5 109.1L820.3 111.7L821.1 114.4L821.9 117.3L822.7 119.9L823.5 122.0L824.3 124.3L825.1 126.4L825.9 128.5L826.7 130.5L827.5 132.7L828.3 134.9L829.1 136.9L829.9 139.5L830.7 141.2L831.5 143.6L832.3 145.6L833.1 148.1L833.9 150.1L834.7 151.5L835.5 153.3L836.3 154.7L837.1 155.9L837.9 157.3L838.7 158.7L839.5 159.9L840.3 160.7L841.1 162.0L841.9 163.2L842.7 164.4L843.5 165.4L844.3 166.3L845.1 167.4L845.9 169.0L846.7 170.1L847.5 171.3L848.3 172.6L849.1 173.9L849.9 175.4L850.7 177.1L851.5 178.5L852.3 180.7L853.1 182.1L853.9 182.9L854.7 184.0L855.5 185.1L856.3 185.5L857.1 186.3L857.9 187.0L858.7 187.6L859.5 188.7L860.3 189.2L861.1 189.9L861.9 190.7L862.7 191.5L863.5 192.7L864.3 193.4L865.1 194.3L865.9 195.3L866.7 196.6L867.5 197.9L868.3 199.1L869.1 200.2L869.9 201.2L870.7 202.5L871.5 203.6L872.3 204.4L873.1 205.9L873.9 207.1L874.7 208.1L875.5 209.4L876.3 210.3L877.1 211.1L877.9 212.4L878.7 213.5L879.5 213.8L880.3 214.8L881.1 215.8L881.9 216.6L882.7 217.4L883.5 218.2L884.3 218.3L885.1 219.5L885.9 219.8L886.7 220.6L887.5 221.2L888.3 222.2L889.1 222.4L889.9 223.4L890.7 223.7L891.5 225.0L892.3 225.1L893.1 225.8L893.9 226.1L894.7 226.8L895.5 227.8L896.3 228.1L897.1 228.4L897.9 229.1L898.7 229.8L899.5 230.7L900.3 230.9L901.1 231.6L901.9 232.2L902.7 233.0L903.5 233.2L904.3 233.4L905.1 233.9L905.9 234.9L906.7 235.1L907.5 235.1L908.3 235.8L909.1 236.3L909.9 236.7L910.7 237.3L911.5 237.7L912.3 238.2L913.1 237.9L913.9 238.7L914.7 238.9L915.5 239.1L916.3 239.7L917.1 239.6L917.9 239.9L918.7 240.7L919.5 240.8L920.3 241.1L921.1 241.5L921.9 241.2L922.7 242.0L923.5 242.0L924.3 242.3L925.1 242.7L925.9 242.9L926.7 243.0L927.5 243.3L928.3 243.6L929.1 244.1L929.9 243.8L930.7 244.8L931.5 244.7L932.3 245.6L933.1 245.6L933.9 246.2L934.7 246.1L935.5 246.8L936.3 246.9L937.1 247.2L937.9 247.5L938.7 247.2L939.5 247.8L940.3 248.0L941.1 248.7L941.9 248.9L942.7 249.4L943.5 249.6L944.3 250.0L945.1 249.9L945.9 250.3L946.7 250.4L947.5 250.4L948.3 250.5L949.1 251.1L949.9 251.1L950.7 251.4L951.5 251.5L952.3 251.7L953.1 252.7L953.9 252.3L954.7 252.2L955.5 252.7L956.3 252.9L957.1 252.8L957.9 253.4L958.7 253.2L959.5 253.7L960.3 253.6L961.1 253.7L961.9 254.7L962.7 254.0L963.5 254.0L964.3 254.3L965.1 254.4L965.9 254.9L966.7 254.9L967.5 254.7L968.3 255.4L969.1 255.1L969.9 255.0L970.7 255.6L971.5 255.6L972.3 255.4L973.1 255.5L973.9 255.8L974.7 255.8L975.5 256.1L976.3 256.1L977.1 255.9L977.9 256.0L978.7 256.3L979.5 256.7L980.3 256.4L981.1 256.7L981.9 256.6L982.7 256.9L983.5 256.8L984.3 257.1L985.1 256.9L985.9 257.0L986.7 257.6L987.5 257.5L988.3 257.2L989.1 257.7L989.9 257.6L990.7 258.0L991.5 257.5L992.3 257.8L993.1 257.9L993.9 257.9L994.7 257.9L995.5 258.6L996.3 258.3L997.1 258.3L997.9 258.1L998.7 258.7L999.5 258.8L1000.3 258.6L1001.1 258.4L1001.9 258.8L1002.7 258.8L1003.5 258.5L1004.3 259.3L1005.1 259.1L1005.9 258.8L1006.7 258.8L1007.5 259.2L1008.3 259.3L1009.1 259.3L1009.9 259.3L1010.7 259.2L1011.5 259.7L1012.3 259.3L1013.1 259.5L1013.9 259.6L1014.7 259.6L1015.5 259.9L1016.3 260.2L1017.1 259.6L1017.9 260.2L1018.7 260.7L1019.5 260.9L1020.3 260.7L1021.1 261.1L1021.9 261.2L1022.7 261.4L1023.5 261.5L1024.3 262.0L1025.1 262.3L1025.9 262.5L1026.7 262.5L1027.5 262.6L1028.3 263.0L1029.1 263.7L1029.9 263.2L1030.7 263.4L1031.5 264.0L1032.3 263.6L1033.1 263.6L1033.9 264.5L1034.7 264.8L1035.5 265.0L1036.3 265.1L1037.1 265.3L1037.9 265.2L1038.7 265.7L1039.5 265.4L1040.3 265.4L1041.1 265.8L1041.9 265.7L1042.7 265.9L1043.5 266.1L1044.3 266.2L1045.1 266.5L1045.9 266.3L1046.7 266.5L1047.5 266.7L1048.3 266.9L1049.1 267.0L1049.9 267.2L1050.7 267.1L1051.5 267.3L1052.3 267.4L1053.1 267.3L1053.9 267.4L1054.7 267.3L1055.5 267.5L1056.3 267.7L1057.1 267.4L1057.9 267.9L1058.7 267.6L1059.5 267.9L1060.3 268.1L1061.1 267.8L1061.9 267.7L1062.7 267.9L1063.5 267.8L1064.3 267.7L1065.1 268.1L1065.9 267.6L1066.7 268.2L1067.5 267.9L1068.3 268.3L1069.1 268.1L1069.9 268.7L1070.7 268.3L1071.5 268.0L1072.3 269.2L1073.1 268.7L1073.9 268.8L1074.7 268.9L1075.5 269.0L1076.3 269.2L1077.1 269.1L1077.9 269.8L1078.7 269.4L1079.5 269.7L1080.3 270.0L1081.1 269.8L1081.9 270.1L1082.7 269.9L1083.5 269.9L1084.3 270.0L1085.1 270.5L1085.9 270.6L1086.7 270.3L1087.5 270.8L1088.3 270.5L1089.1 270.8L1089.9 271.0L1090.7 270.6L1091.5 271.2L1092.3 271.1L1093.1 270.9L1093.9 271.5L1094.7 271.5L1095.5 271.6L1096.3 271.5L1097.1 271.5L1097.9 271.5L1098.7 271.8L1099.5 271.7L1100.3 271.9L1101.1 272.2L1101.9 272.3L1102.7 272.3L1103.5 272.4L1104.3 272.3L1105.1 272.6L1105.9 272.8L1106.7 272.5L1107.5 272.6L1108.3 272.5L1109.1 272.7L1109.9 272.8L1110.7 273.3L1111.5 273.3L1112.3 272.8L1113.1 273.3L1113.9 273.1L1114.7 272.9L1115.5 273.4L1116.3 273.2L1117.1 273.5L1117.9 273.6L1118.7 273.4L1119.5 273.9L1120.3 273.7L1121.1 273.6L1121.9 273.4L1122.7 274.3L1123.5 273.7L1124.3 274.0L1125.1 274.1L1125.9 274.2L1126.7 273.8L1127.5 273.7L1128.3 274.2L1129.1 274.0L1129.9 274.3L1130.7 274.8L1131.5 274.3L1132.3 274.6L1133.1 274.3L1133.9 275.2L1134.7 274.6L1135.5 274.8L1136.3 274.8L1137.1 274.7L1137.9 275.2L1138.7 275.0L1139.5 274.9L1140.3 275.0L1141.1 275.2L1141.9 275.3L1142.7 275.4L1143.5 275.3L1144.3 275.4L1145.1 276.0L1145.9 275.6L1146.7 276.0L1147.5 275.7L1148.3 275.9L1149.1 275.8L1149.9 275.6L1150.7 275.9L1151.5 276.3L1152.3 276.4L1153.1 276.4L1153.9 276.1L1154.7 276.2L1155.5 276.1L1156.3 276.5L1157.1 276.6L1157.9 276.5L1158.7 276.4L1159.5 276.6L1160.3 276.6L1161.1 276.7L1161.9 276.6L1162.7 276.7L1163.5 276.6L1164.3 276.6L1165.1 276.3L1165.9 276.8L1166.7 276.9L1167.5 276.7L1168.3 277.2L1169.1 277.2L1169.9 277.3L1170.7 277.0L1171.5 277.0L1172.3 277.1L1173.1 277.3L1173.9 277.4L1174.7 276.9L1175.5 277.1L1176.3 276.8L1177.1 277.2L1177.9 277.5L1178.7 277.5L1179.5 277.8L1180.3 277.5L1181.1 277.4L1181.9 277.3L1182.7 277.6L1183.5 277.9L1184.3 277.4L1185.1 277.5L1185.9 277.7L1186.7 277.7L1187.5 278.0L1188.3 277.8L1189.1 277.9L1189.9 278.0L1190.7 278.1L1191.5 278.4L1192.3 277.9L1193.1 277.8L1193.9 277.9L1194.7 278.2L1195.5 278.3L1196.3 278.5L1197.1 278.5L1197.9 278.5L1198.7 278.1L1199.5 278.4L1200.3 278.7L1201.1 278.4L1201.9 278.6L1202.7 278.6L1203.5 278.8L1204.3 278.6L1205.1 278.5L1205.9 278.8L1206.7 278.8L1207.5 279.1L1208.3 278.8L1209.1 278.9L1209.9 278.9L1210.7 278.9L1211.5 279.5L1212.3 278.6L1213.1 279.3L1213.9 279.0L1214.7 279.2L1215.5 278.9L1216.3 279.3L1217.1 279.1L1217.9 279.4L1218.7 279.6L1219.5 279.1L1220.3 279.1L1221.1 279.7L1221.9 279.9L1222.7 279.5L1223.5 279.1L1224.3 279.2L1225.1 279.8L1225.9 280.0L1226.7 279.6L1227.5 279.4L1228.3 279.9L1229.1 279.4L1229.9 279.6L1230.7 279.6L1231.5 279.7L1232.3 279.9L1233.1 279.6L1233.9 279.9L1234.7 280.1L1235.5 280.1L1236.3 280.2L1237.1 279.9L1237.9 279.6L1238.7 280.1L1239.5 280.1L1240.3 280.1L1241.1 280.0L1241.9 280.2L1242.7 279.9L1243.5 280.3L1244.3 280.5L1245.1 280.2L1245.9 280.2L1246.7 280.4L1247.5 280.4L1248.3 280.4L1249.1 280.3L1249.9 280.3L1250.7 280.6L1251.5 280.1L1252.3 280.6L1253.1 280.2L1253.9 280.5L1254.7 280.2L1255.5 280.1L1256.3 280.2L1257.1 280.3L1257.9 280.8L1258.7 280.4L1259.5 280.4L1260.3 280.3L1261.1 280.5L1261.9 280.6L1262.7 280.7L1263.5 280.5L1264.3 280.4L1265.1 280.6L1265.9 280.8L1266.7 280.8L1267.5 280.5L1268.3 280.6L1269.1 280.8L1269.9 280.6L1270.7 280.4L1271.5 280.8L1272.3 280.7L1273.1 280.8L1273.9 281.0L1274.7 280.7L1275.5 280.6L1276.3 280.7L1277.1 281.0L1277.9 280.9L1278.7 281.0L1279.5 280.8L1280.3 281.0L1281.1 280.8" stroke="#ff0000" stroke-width="1.5"/>
</g>
</g></svg></body></html>
